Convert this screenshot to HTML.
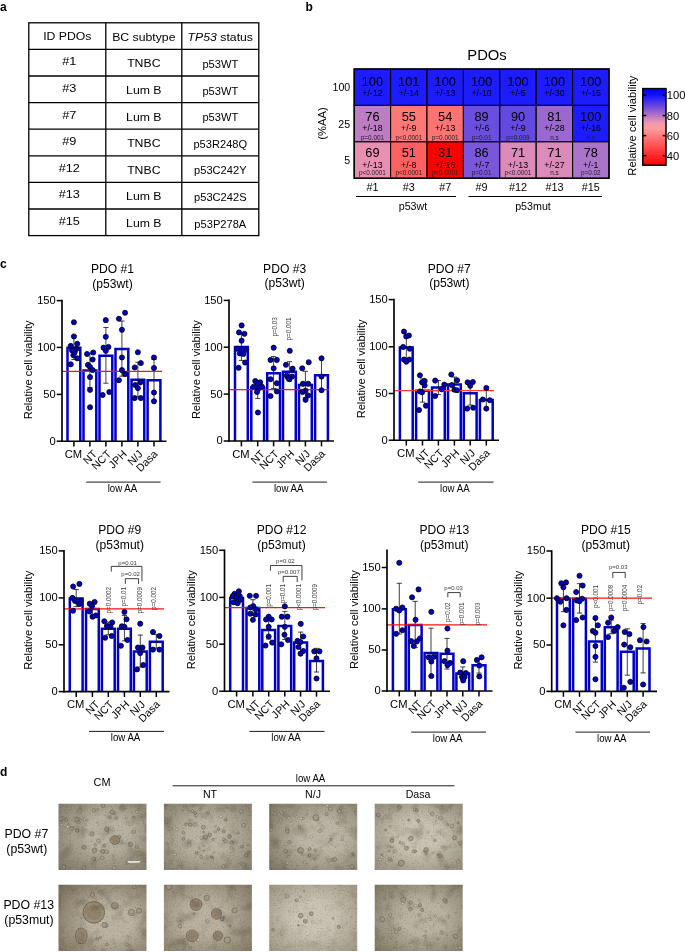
<!DOCTYPE html>
<html><head><meta charset="utf-8"><title>Figure</title>
<style>
html,body{margin:0;padding:0;background:#fff;}
body{width:685px;height:952px;overflow:hidden;font-family:"Liberation Sans",sans-serif;}
svg{display:block;will-change:transform;font-family:"Liberation Sans",sans-serif;}
</style></head><body>
<svg width="685" height="952" viewBox="0 0 685 952">
<rect x="0" y="0" width="685" height="952" fill="#ffffff"/>
<g id="panel-a">
<text transform="translate(0.10 11.00)" font-size="12" text-anchor="start" fill="#000" font-weight="bold">a</text>
<rect x="28.80" y="22.80" width="230.00" height="212.80" fill="none" stroke="#000" stroke-width="1.3"/>
<line x1="105.80" y1="22.80" x2="105.80" y2="235.60" stroke="#000" stroke-width="1.3" stroke-linecap="butt"/>
<line x1="181.80" y1="22.80" x2="181.80" y2="235.60" stroke="#000" stroke-width="1.3" stroke-linecap="butt"/>
<line x1="28.80" y1="49.40" x2="258.80" y2="49.40" stroke="#000" stroke-width="1.3" stroke-linecap="butt"/>
<line x1="28.80" y1="76.00" x2="258.80" y2="76.00" stroke="#000" stroke-width="1.3" stroke-linecap="butt"/>
<line x1="28.80" y1="102.60" x2="258.80" y2="102.60" stroke="#000" stroke-width="1.3" stroke-linecap="butt"/>
<line x1="28.80" y1="129.20" x2="258.80" y2="129.20" stroke="#000" stroke-width="1.3" stroke-linecap="butt"/>
<line x1="28.80" y1="155.80" x2="258.80" y2="155.80" stroke="#000" stroke-width="1.3" stroke-linecap="butt"/>
<line x1="28.80" y1="182.40" x2="258.80" y2="182.40" stroke="#000" stroke-width="1.3" stroke-linecap="butt"/>
<line x1="28.80" y1="209.00" x2="258.80" y2="209.00" stroke="#000" stroke-width="1.3" stroke-linecap="butt"/>
<text transform="translate(67.30 40.20) scale(1.19 1)" font-size="10.3" text-anchor="middle" fill="#000">ID PDOs</text>
<text transform="translate(143.80 40.70) scale(1.19 1)" font-size="10.3" text-anchor="middle" fill="#000">BC subtype</text>
<text transform="translate(220.30 40.70) scale(1.19 1)" font-size="10.3" text-anchor="middle" fill="#000"><tspan font-style="italic">TP53</tspan> status</text>
<text transform="translate(69.30 65.40) scale(1.19 1)" font-size="10.7" text-anchor="middle" fill="#000">#1</text>
<text transform="translate(143.80 67.30) scale(1.19 1)" font-size="10.3" text-anchor="middle" fill="#000">TNBC</text>
<text transform="translate(220.30 67.90) scale(1.08 1)" font-size="10.3" text-anchor="middle" fill="#000">p53WT</text>
<text transform="translate(69.30 92.00) scale(1.19 1)" font-size="10.7" text-anchor="middle" fill="#000">#3</text>
<text transform="translate(143.80 93.90) scale(1.19 1)" font-size="10.3" text-anchor="middle" fill="#000">Lum B</text>
<text transform="translate(220.30 94.50) scale(1.08 1)" font-size="10.3" text-anchor="middle" fill="#000">p53WT</text>
<text transform="translate(69.30 118.60) scale(1.19 1)" font-size="10.7" text-anchor="middle" fill="#000">#7</text>
<text transform="translate(143.80 120.50) scale(1.19 1)" font-size="10.3" text-anchor="middle" fill="#000">Lum B</text>
<text transform="translate(220.30 121.10) scale(1.08 1)" font-size="10.3" text-anchor="middle" fill="#000">p53WT</text>
<text transform="translate(69.30 145.20) scale(1.19 1)" font-size="10.7" text-anchor="middle" fill="#000">#9</text>
<text transform="translate(143.80 147.10) scale(1.19 1)" font-size="10.3" text-anchor="middle" fill="#000">TNBC</text>
<text transform="translate(220.30 147.70) scale(1.08 1)" font-size="10.3" text-anchor="middle" fill="#000">p53R248Q</text>
<text transform="translate(69.30 171.80) scale(1.19 1)" font-size="10.7" text-anchor="middle" fill="#000">#12</text>
<text transform="translate(143.80 173.70) scale(1.19 1)" font-size="10.3" text-anchor="middle" fill="#000">TNBC</text>
<text transform="translate(220.30 174.30) scale(1.08 1)" font-size="10.3" text-anchor="middle" fill="#000">p53C242Y</text>
<text transform="translate(69.30 198.40) scale(1.19 1)" font-size="10.7" text-anchor="middle" fill="#000">#13</text>
<text transform="translate(143.80 200.30) scale(1.19 1)" font-size="10.3" text-anchor="middle" fill="#000">Lum B</text>
<text transform="translate(220.30 200.90) scale(1.08 1)" font-size="10.3" text-anchor="middle" fill="#000">p53C242S</text>
<text transform="translate(69.30 225.00) scale(1.19 1)" font-size="10.7" text-anchor="middle" fill="#000">#15</text>
<text transform="translate(143.80 226.90) scale(1.19 1)" font-size="10.3" text-anchor="middle" fill="#000">Lum B</text>
<text transform="translate(220.30 227.50) scale(1.08 1)" font-size="10.3" text-anchor="middle" fill="#000">p53P278A</text>
</g>
<g id="panel-b">
<text transform="translate(305.50 10.80)" font-size="12" text-anchor="start" fill="#000" font-weight="bold">b</text>
<text transform="translate(487.00 59.50)" font-size="14.8" text-anchor="middle" fill="#000">PDOs</text>
<rect x="354.20" y="69.00" width="36.40" height="36.42" fill="#1c1cff" stroke="#000" stroke-width="1.1"/>
<rect x="390.60" y="69.00" width="36.40" height="36.42" fill="#1c1cff" stroke="#000" stroke-width="1.1"/>
<rect x="427.00" y="69.00" width="36.40" height="36.42" fill="#1c1cff" stroke="#000" stroke-width="1.1"/>
<rect x="463.40" y="69.00" width="36.40" height="36.42" fill="#1c1cff" stroke="#000" stroke-width="1.1"/>
<rect x="499.80" y="69.00" width="36.40" height="36.42" fill="#1c1cff" stroke="#000" stroke-width="1.1"/>
<rect x="536.20" y="69.00" width="36.40" height="36.42" fill="#1c1cff" stroke="#000" stroke-width="1.1"/>
<rect x="572.60" y="69.00" width="36.40" height="36.42" fill="#1c1cff" stroke="#000" stroke-width="1.1"/>
<rect x="354.20" y="105.42" width="36.40" height="36.42" fill="#bd7cc4" stroke="#000" stroke-width="1.1"/>
<rect x="390.60" y="105.42" width="36.40" height="36.42" fill="#ff7878" stroke="#000" stroke-width="1.1"/>
<rect x="427.00" y="105.42" width="36.40" height="36.42" fill="#ff7373" stroke="#000" stroke-width="1.1"/>
<rect x="463.40" y="105.42" width="36.40" height="36.42" fill="#6a4edf" stroke="#000" stroke-width="1.1"/>
<rect x="499.80" y="105.42" width="36.40" height="36.42" fill="#6448e2" stroke="#000" stroke-width="1.1"/>
<rect x="536.20" y="105.42" width="36.40" height="36.42" fill="#9a68cf" stroke="#000" stroke-width="1.1"/>
<rect x="572.60" y="105.42" width="36.40" height="36.42" fill="#1c1cff" stroke="#000" stroke-width="1.1"/>
<rect x="354.20" y="141.84" width="36.40" height="36.42" fill="#e88fb2" stroke="#000" stroke-width="1.1"/>
<rect x="390.60" y="141.84" width="36.40" height="36.42" fill="#ff6060" stroke="#000" stroke-width="1.1"/>
<rect x="427.00" y="141.84" width="36.40" height="36.42" fill="#ff0000" stroke="#000" stroke-width="1.1"/>
<rect x="463.40" y="141.84" width="36.40" height="36.42" fill="#7a57da" stroke="#000" stroke-width="1.1"/>
<rect x="499.80" y="141.84" width="36.40" height="36.42" fill="#dc8aba" stroke="#000" stroke-width="1.1"/>
<rect x="536.20" y="141.84" width="36.40" height="36.42" fill="#dc8aba" stroke="#000" stroke-width="1.1"/>
<rect x="572.60" y="141.84" width="36.40" height="36.42" fill="#ab74cb" stroke="#000" stroke-width="1.1"/>
<rect x="354.20" y="69.00" width="254.80" height="109.26" fill="none" stroke="#000" stroke-width="1.4"/>
<text transform="translate(372.40 86.00) scale(0.97 1)" font-size="13.2" text-anchor="middle" fill="#000">100</text>
<text transform="translate(372.40 96.10)" font-size="8.8" text-anchor="middle" fill="#000">+/-12</text>
<text transform="translate(408.80 86.00) scale(0.97 1)" font-size="13.2" text-anchor="middle" fill="#000">101</text>
<text transform="translate(408.80 96.10)" font-size="8.8" text-anchor="middle" fill="#000">+/-14</text>
<text transform="translate(445.20 86.00) scale(0.97 1)" font-size="13.2" text-anchor="middle" fill="#000">100</text>
<text transform="translate(445.20 96.10)" font-size="8.8" text-anchor="middle" fill="#000">+/-13</text>
<text transform="translate(481.60 86.00) scale(0.97 1)" font-size="13.2" text-anchor="middle" fill="#000">100</text>
<text transform="translate(481.60 96.10)" font-size="8.8" text-anchor="middle" fill="#000">+/-10</text>
<text transform="translate(518.00 86.00) scale(0.97 1)" font-size="13.2" text-anchor="middle" fill="#000">100</text>
<text transform="translate(518.00 96.10)" font-size="8.8" text-anchor="middle" fill="#000">+/-5</text>
<text transform="translate(554.40 86.00) scale(0.97 1)" font-size="13.2" text-anchor="middle" fill="#000">100</text>
<text transform="translate(554.40 96.10)" font-size="8.8" text-anchor="middle" fill="#000">+/-30</text>
<text transform="translate(590.80 86.00) scale(0.97 1)" font-size="13.2" text-anchor="middle" fill="#000">100</text>
<text transform="translate(590.80 96.10)" font-size="8.8" text-anchor="middle" fill="#000">+/-15</text>
<text transform="translate(372.40 121.42) scale(0.97 1)" font-size="13.2" text-anchor="middle" fill="#000">76</text>
<text transform="translate(372.40 131.42)" font-size="8.8" text-anchor="middle" fill="#000">+/-18</text>
<text transform="translate(372.40 139.72)" font-size="6.4" text-anchor="middle" fill="#222">p=0.001</text>
<text transform="translate(408.80 121.42) scale(0.97 1)" font-size="13.2" text-anchor="middle" fill="#000">55</text>
<text transform="translate(408.80 131.42)" font-size="8.8" text-anchor="middle" fill="#000">+/-9</text>
<text transform="translate(408.80 139.72)" font-size="6.4" text-anchor="middle" fill="#222">p&lt;0.0001</text>
<text transform="translate(445.20 121.42) scale(0.97 1)" font-size="13.2" text-anchor="middle" fill="#000">54</text>
<text transform="translate(445.20 131.42)" font-size="8.8" text-anchor="middle" fill="#000">+/-13</text>
<text transform="translate(445.20 139.72)" font-size="6.4" text-anchor="middle" fill="#222">p=0.0001</text>
<text transform="translate(481.60 121.42) scale(0.97 1)" font-size="13.2" text-anchor="middle" fill="#000">89</text>
<text transform="translate(481.60 131.42)" font-size="8.8" text-anchor="middle" fill="#000">+/-6</text>
<text transform="translate(481.60 139.72)" font-size="6.4" text-anchor="middle" fill="#222">p=0.01</text>
<text transform="translate(518.00 121.42) scale(0.97 1)" font-size="13.2" text-anchor="middle" fill="#000">90</text>
<text transform="translate(518.00 131.42)" font-size="8.8" text-anchor="middle" fill="#000">+/-9</text>
<text transform="translate(518.00 139.72)" font-size="6.4" text-anchor="middle" fill="#222">p=0.009</text>
<text transform="translate(554.40 121.42) scale(0.97 1)" font-size="13.2" text-anchor="middle" fill="#000">81</text>
<text transform="translate(554.40 131.42)" font-size="8.8" text-anchor="middle" fill="#000">+/-28</text>
<text transform="translate(554.40 139.72)" font-size="6.4" text-anchor="middle" fill="#222">n.s</text>
<text transform="translate(590.80 121.42) scale(0.97 1)" font-size="13.2" text-anchor="middle" fill="#000">100</text>
<text transform="translate(590.80 131.42)" font-size="8.8" text-anchor="middle" fill="#000">+/-16</text>
<text transform="translate(590.80 139.72)" font-size="6.4" text-anchor="middle" fill="#222">n.s</text>
<text transform="translate(372.40 156.84) scale(0.97 1)" font-size="13.2" text-anchor="middle" fill="#000">69</text>
<text transform="translate(372.40 168.04)" font-size="8.8" text-anchor="middle" fill="#000">+/-13</text>
<text transform="translate(372.40 175.44)" font-size="6.4" text-anchor="middle" fill="#222">p&lt;0.0001</text>
<text transform="translate(408.80 156.84) scale(0.97 1)" font-size="13.2" text-anchor="middle" fill="#000">51</text>
<text transform="translate(408.80 168.04)" font-size="8.8" text-anchor="middle" fill="#000">+/-8</text>
<text transform="translate(408.80 175.44)" font-size="6.4" text-anchor="middle" fill="#222">p&lt;0.0001</text>
<text transform="translate(445.20 156.84) scale(0.97 1)" font-size="13.2" text-anchor="middle" fill="#000">31</text>
<text transform="translate(445.20 168.04)" font-size="8.8" text-anchor="middle" fill="#000">+/-16</text>
<text transform="translate(445.20 175.44)" font-size="6.4" text-anchor="middle" fill="#222">p&lt;0.0001</text>
<text transform="translate(481.60 156.84) scale(0.97 1)" font-size="13.2" text-anchor="middle" fill="#000">86</text>
<text transform="translate(481.60 168.04)" font-size="8.8" text-anchor="middle" fill="#000">+/-7</text>
<text transform="translate(481.60 175.44)" font-size="6.4" text-anchor="middle" fill="#222">p=0.01</text>
<text transform="translate(518.00 156.84) scale(0.97 1)" font-size="13.2" text-anchor="middle" fill="#000">71</text>
<text transform="translate(518.00 168.04)" font-size="8.8" text-anchor="middle" fill="#000">+/-13</text>
<text transform="translate(518.00 175.44)" font-size="6.4" text-anchor="middle" fill="#222">p&lt;0.0001</text>
<text transform="translate(554.40 156.84) scale(0.97 1)" font-size="13.2" text-anchor="middle" fill="#000">71</text>
<text transform="translate(554.40 168.04)" font-size="8.8" text-anchor="middle" fill="#000">+/-27</text>
<text transform="translate(554.40 175.44)" font-size="6.4" text-anchor="middle" fill="#222">n.s</text>
<text transform="translate(590.80 156.84) scale(0.97 1)" font-size="13.2" text-anchor="middle" fill="#000">78</text>
<text transform="translate(590.80 168.04)" font-size="8.8" text-anchor="middle" fill="#000">+/-1</text>
<text transform="translate(590.80 175.44)" font-size="6.4" text-anchor="middle" fill="#222">p=0.02</text>
<text transform="translate(350.20 91.21) scale(0.95 1)" font-size="11.2" text-anchor="end" fill="#000">100</text>
<text transform="translate(350.20 127.63) scale(0.95 1)" font-size="11.2" text-anchor="end" fill="#000">25</text>
<text transform="translate(350.20 164.05) scale(0.95 1)" font-size="11.2" text-anchor="end" fill="#000">5</text>
<text transform="translate(325.70 123.50) rotate(-90)" font-size="11.2" text-anchor="middle" fill="#000">(%AA)</text>
<text transform="translate(372.40 190.50)" font-size="10.8" text-anchor="middle" fill="#000">#1</text>
<text transform="translate(408.80 190.50)" font-size="10.8" text-anchor="middle" fill="#000">#3</text>
<text transform="translate(445.20 190.50)" font-size="10.8" text-anchor="middle" fill="#000">#7</text>
<text transform="translate(481.60 190.50)" font-size="10.8" text-anchor="middle" fill="#000">#9</text>
<text transform="translate(518.00 190.50)" font-size="10.8" text-anchor="middle" fill="#000">#12</text>
<text transform="translate(554.40 190.50)" font-size="10.8" text-anchor="middle" fill="#000">#13</text>
<text transform="translate(590.80 190.50)" font-size="10.8" text-anchor="middle" fill="#000">#15</text>
<line x1="356.00" y1="196.50" x2="456.00" y2="196.50" stroke="#000" stroke-width="1" stroke-linecap="butt"/>
<line x1="468.50" y1="196.50" x2="602.00" y2="196.50" stroke="#000" stroke-width="1" stroke-linecap="butt"/>
<text transform="translate(413.00 210.40)" font-size="10.7" text-anchor="middle" fill="#000">p53wt</text>
<text transform="translate(533.00 210.40)" font-size="10.7" text-anchor="middle" fill="#000">p53mut</text>
<defs><linearGradient id="cb" x1="0" y1="0" x2="0" y2="1"><stop offset="0" stop-color="#0000ff"/><stop offset="0.08" stop-color="#1010ff"/><stop offset="0.45" stop-color="#f09ab0"/><stop offset="0.52" stop-color="#ff9c9c"/><stop offset="1" stop-color="#ff0000"/></linearGradient></defs>
<rect x="642.80" y="88.60" width="23.20" height="76.60" fill="url(#cb)" stroke="#000" stroke-width="1.5"/>
<line x1="642.80" y1="95.00" x2="646.30" y2="95.00" stroke="#000" stroke-width="1.5" stroke-linecap="butt"/>
<line x1="662.70" y1="95.00" x2="666.00" y2="95.00" stroke="#000" stroke-width="1.5" stroke-linecap="butt"/>
<text transform="translate(666.80 99.00)" font-size="11.2" text-anchor="start" fill="#000">100</text>
<line x1="642.80" y1="115.50" x2="646.30" y2="115.50" stroke="#000" stroke-width="1.5" stroke-linecap="butt"/>
<line x1="662.70" y1="115.50" x2="666.00" y2="115.50" stroke="#000" stroke-width="1.5" stroke-linecap="butt"/>
<text transform="translate(666.80 119.50)" font-size="11.2" text-anchor="start" fill="#000">80</text>
<line x1="642.80" y1="135.60" x2="646.30" y2="135.60" stroke="#000" stroke-width="1.5" stroke-linecap="butt"/>
<line x1="662.70" y1="135.60" x2="666.00" y2="135.60" stroke="#000" stroke-width="1.5" stroke-linecap="butt"/>
<text transform="translate(666.80 139.60)" font-size="11.2" text-anchor="start" fill="#000">60</text>
<line x1="642.80" y1="155.70" x2="646.30" y2="155.70" stroke="#000" stroke-width="1.5" stroke-linecap="butt"/>
<line x1="662.70" y1="155.70" x2="666.00" y2="155.70" stroke="#000" stroke-width="1.5" stroke-linecap="butt"/>
<text transform="translate(666.80 159.70)" font-size="11.2" text-anchor="start" fill="#000">40</text>
<text transform="translate(635.80 125.60) rotate(-90)" font-size="11.2" text-anchor="middle" fill="#000">Relative cell viability</text>
</g>
<g id="panel-c">
<text transform="translate(0.10 267.90)" font-size="12" text-anchor="start" fill="#000" font-weight="bold">c</text>
<g id="c1">
<path d="M67.50,441.20 V347.80 H80.30 V441.20" fill="#fff" stroke="#0000c8" stroke-width="2.5"/>
<path d="M83.50,441.20 V370.57 H96.30 V441.20" fill="#fff" stroke="#0000c8" stroke-width="2.5"/>
<path d="M99.50,441.20 V355.68 H112.30 V441.20" fill="#fff" stroke="#0000c8" stroke-width="2.5"/>
<path d="M115.50,441.20 V349.03 H128.30 V441.20" fill="#fff" stroke="#0000c8" stroke-width="2.5"/>
<path d="M131.50,441.20 V379.68 H144.30 V441.20" fill="#fff" stroke="#0000c8" stroke-width="2.5"/>
<path d="M147.60,441.20 V380.21 H160.40 V441.20" fill="#fff" stroke="#0000c8" stroke-width="2.5"/>
<line x1="73.90" y1="335.91" x2="73.90" y2="359.56" stroke="#111" stroke-width="0.8" stroke-linecap="butt"/>
<line x1="71.30" y1="335.91" x2="76.50" y2="335.91" stroke="#111" stroke-width="0.8" stroke-linecap="butt"/>
<line x1="71.30" y1="359.56" x2="76.50" y2="359.56" stroke="#111" stroke-width="0.8" stroke-linecap="butt"/>
<line x1="89.90" y1="353.43" x2="89.90" y2="387.59" stroke="#111" stroke-width="0.8" stroke-linecap="butt"/>
<line x1="87.30" y1="353.43" x2="92.50" y2="353.43" stroke="#111" stroke-width="0.8" stroke-linecap="butt"/>
<line x1="87.30" y1="387.59" x2="92.50" y2="387.59" stroke="#111" stroke-width="0.8" stroke-linecap="butt"/>
<line x1="105.90" y1="327.50" x2="105.90" y2="383.21" stroke="#111" stroke-width="0.8" stroke-linecap="butt"/>
<line x1="103.30" y1="327.50" x2="108.50" y2="327.50" stroke="#111" stroke-width="0.8" stroke-linecap="butt"/>
<line x1="103.30" y1="383.21" x2="108.50" y2="383.21" stroke="#111" stroke-width="0.8" stroke-linecap="butt"/>
<line x1="121.90" y1="321.02" x2="121.90" y2="376.20" stroke="#111" stroke-width="0.8" stroke-linecap="butt"/>
<line x1="119.30" y1="321.02" x2="124.50" y2="321.02" stroke="#111" stroke-width="0.8" stroke-linecap="butt"/>
<line x1="119.30" y1="376.20" x2="124.50" y2="376.20" stroke="#111" stroke-width="0.8" stroke-linecap="butt"/>
<line x1="137.90" y1="362.19" x2="137.90" y2="396.35" stroke="#111" stroke-width="0.8" stroke-linecap="butt"/>
<line x1="135.30" y1="362.19" x2="140.50" y2="362.19" stroke="#111" stroke-width="0.8" stroke-linecap="butt"/>
<line x1="135.30" y1="396.35" x2="140.50" y2="396.35" stroke="#111" stroke-width="0.8" stroke-linecap="butt"/>
<line x1="154.00" y1="359.56" x2="154.00" y2="400.20" stroke="#111" stroke-width="0.8" stroke-linecap="butt"/>
<line x1="151.40" y1="359.56" x2="156.60" y2="359.56" stroke="#111" stroke-width="0.8" stroke-linecap="butt"/>
<line x1="151.40" y1="400.20" x2="156.60" y2="400.20" stroke="#111" stroke-width="0.8" stroke-linecap="butt"/>
<line x1="62.00" y1="371.30" x2="162.00" y2="371.30" stroke="#ff1212" stroke-width="1.25" stroke-linecap="butt"/>
<line x1="62.00" y1="299.80" x2="62.00" y2="442.00" stroke="#000" stroke-width="1.65" stroke-linecap="butt"/>
<line x1="61.20" y1="441.20" x2="166.50" y2="441.20" stroke="#000" stroke-width="1.65" stroke-linecap="butt"/>
<line x1="56.70" y1="300.60" x2="62.00" y2="300.60" stroke="#000" stroke-width="1.5" stroke-linecap="butt"/>
<text transform="translate(55.80 304.00)" font-size="11.2" text-anchor="end" fill="#000">150</text>
<line x1="56.70" y1="347.40" x2="62.00" y2="347.40" stroke="#000" stroke-width="1.5" stroke-linecap="butt"/>
<text transform="translate(55.80 350.80)" font-size="11.2" text-anchor="end" fill="#000">100</text>
<line x1="56.70" y1="394.40" x2="62.00" y2="394.40" stroke="#000" stroke-width="1.5" stroke-linecap="butt"/>
<text transform="translate(55.80 397.80)" font-size="11.2" text-anchor="end" fill="#000">50</text>
<line x1="56.70" y1="441.20" x2="62.00" y2="441.20" stroke="#000" stroke-width="1.5" stroke-linecap="butt"/>
<text transform="translate(55.80 444.60)" font-size="11.2" text-anchor="end" fill="#000">0</text>
<line x1="73.90" y1="441.20" x2="73.90" y2="446.60" stroke="#000" stroke-width="1.5" stroke-linecap="butt"/>
<line x1="89.90" y1="441.20" x2="89.90" y2="446.60" stroke="#000" stroke-width="1.5" stroke-linecap="butt"/>
<line x1="105.90" y1="441.20" x2="105.90" y2="446.60" stroke="#000" stroke-width="1.5" stroke-linecap="butt"/>
<line x1="121.90" y1="441.20" x2="121.90" y2="446.60" stroke="#000" stroke-width="1.5" stroke-linecap="butt"/>
<line x1="137.90" y1="441.20" x2="137.90" y2="446.60" stroke="#000" stroke-width="1.5" stroke-linecap="butt"/>
<line x1="154.00" y1="441.20" x2="154.00" y2="446.60" stroke="#000" stroke-width="1.5" stroke-linecap="butt"/>
<circle cx="73.92" cy="322.25" r="2.55" fill="#0000c8" stroke="#000" stroke-width="0.8"/>
<circle cx="73.92" cy="336.44" r="2.55" fill="#0000c8" stroke="#000" stroke-width="0.8"/>
<circle cx="77.25" cy="343.80" r="2.55" fill="#0000c8" stroke="#000" stroke-width="0.8"/>
<circle cx="70.77" cy="345.90" r="2.55" fill="#0000c8" stroke="#000" stroke-width="0.8"/>
<circle cx="76.37" cy="349.05" r="2.55" fill="#0000c8" stroke="#000" stroke-width="0.8"/>
<circle cx="71.99" cy="350.28" r="2.55" fill="#0000c8" stroke="#000" stroke-width="0.8"/>
<circle cx="73.39" cy="355.18" r="2.55" fill="#0000c8" stroke="#000" stroke-width="0.8"/>
<circle cx="77.25" cy="358.34" r="2.55" fill="#0000c8" stroke="#000" stroke-width="0.8"/>
<circle cx="74.62" cy="352.55" r="2.55" fill="#0000c8" stroke="#000" stroke-width="0.8"/>
<circle cx="70.77" cy="364.29" r="2.55" fill="#0000c8" stroke="#000" stroke-width="0.8"/>
<circle cx="87.06" cy="353.96" r="2.55" fill="#0000c8" stroke="#000" stroke-width="0.8"/>
<circle cx="93.19" cy="352.55" r="2.55" fill="#0000c8" stroke="#000" stroke-width="0.8"/>
<circle cx="92.66" cy="359.56" r="2.55" fill="#0000c8" stroke="#000" stroke-width="0.8"/>
<circle cx="87.93" cy="364.82" r="2.55" fill="#0000c8" stroke="#000" stroke-width="0.8"/>
<circle cx="90.04" cy="366.92" r="2.55" fill="#0000c8" stroke="#000" stroke-width="0.8"/>
<circle cx="92.66" cy="370.07" r="2.55" fill="#0000c8" stroke="#000" stroke-width="0.8"/>
<circle cx="90.04" cy="377.08" r="2.55" fill="#0000c8" stroke="#000" stroke-width="0.8"/>
<circle cx="90.04" cy="389.87" r="2.55" fill="#0000c8" stroke="#000" stroke-width="0.8"/>
<circle cx="90.04" cy="407.21" r="2.55" fill="#0000c8" stroke="#000" stroke-width="0.8"/>
<circle cx="105.80" cy="320.15" r="2.55" fill="#0000c8" stroke="#000" stroke-width="0.8"/>
<circle cx="105.80" cy="336.79" r="2.55" fill="#0000c8" stroke="#000" stroke-width="0.8"/>
<circle cx="103.53" cy="347.65" r="2.55" fill="#0000c8" stroke="#000" stroke-width="0.8"/>
<circle cx="108.43" cy="346.95" r="2.55" fill="#0000c8" stroke="#000" stroke-width="0.8"/>
<circle cx="105.80" cy="350.80" r="2.55" fill="#0000c8" stroke="#000" stroke-width="0.8"/>
<circle cx="102.65" cy="394.95" r="2.55" fill="#0000c8" stroke="#000" stroke-width="0.8"/>
<circle cx="109.31" cy="391.97" r="2.55" fill="#0000c8" stroke="#000" stroke-width="0.8"/>
<circle cx="125.07" cy="312.79" r="2.55" fill="#0000c8" stroke="#000" stroke-width="0.8"/>
<circle cx="118.94" cy="318.74" r="2.55" fill="#0000c8" stroke="#000" stroke-width="0.8"/>
<circle cx="121.92" cy="329.78" r="2.55" fill="#0000c8" stroke="#000" stroke-width="0.8"/>
<circle cx="121.92" cy="357.46" r="2.55" fill="#0000c8" stroke="#000" stroke-width="0.8"/>
<circle cx="121.92" cy="370.07" r="2.55" fill="#0000c8" stroke="#000" stroke-width="0.8"/>
<circle cx="125.07" cy="374.10" r="2.55" fill="#0000c8" stroke="#000" stroke-width="0.8"/>
<circle cx="118.94" cy="380.23" r="2.55" fill="#0000c8" stroke="#000" stroke-width="0.8"/>
<circle cx="137.86" cy="352.20" r="2.55" fill="#0000c8" stroke="#000" stroke-width="0.8"/>
<circle cx="140.84" cy="363.07" r="2.55" fill="#0000c8" stroke="#000" stroke-width="0.8"/>
<circle cx="134.71" cy="367.45" r="2.55" fill="#0000c8" stroke="#000" stroke-width="0.8"/>
<circle cx="140.49" cy="382.34" r="2.55" fill="#0000c8" stroke="#000" stroke-width="0.8"/>
<circle cx="135.23" cy="384.96" r="2.55" fill="#0000c8" stroke="#000" stroke-width="0.8"/>
<circle cx="137.86" cy="388.12" r="2.55" fill="#0000c8" stroke="#000" stroke-width="0.8"/>
<circle cx="134.71" cy="398.10" r="2.55" fill="#0000c8" stroke="#000" stroke-width="0.8"/>
<circle cx="140.84" cy="398.10" r="2.55" fill="#0000c8" stroke="#000" stroke-width="0.8"/>
<circle cx="153.98" cy="357.46" r="2.55" fill="#0000c8" stroke="#000" stroke-width="0.8"/>
<circle cx="153.98" cy="367.97" r="2.55" fill="#0000c8" stroke="#000" stroke-width="0.8"/>
<circle cx="153.98" cy="392.50" r="2.55" fill="#0000c8" stroke="#000" stroke-width="0.8"/>
<circle cx="153.98" cy="401.26" r="2.55" fill="#0000c8" stroke="#000" stroke-width="0.8"/>
<text transform="translate(73.40 457.80)" font-size="11.2" text-anchor="middle" fill="#000">CM</text>
<text transform="translate(97.60 454.70) rotate(-45)" font-size="10.8" text-anchor="end" fill="#000">NT</text>
<text transform="translate(111.80 454.70) rotate(-45)" font-size="10.8" text-anchor="end" fill="#000">NCT</text>
<text transform="translate(127.40 454.70) rotate(-45)" font-size="10.8" text-anchor="end" fill="#000">JPH</text>
<text transform="translate(143.40 454.70) rotate(-45)" font-size="10.8" text-anchor="end" fill="#000">N/J</text>
<text transform="translate(158.30 454.70) rotate(-45)" font-size="10.8" text-anchor="end" fill="#000">Dasa</text>
<line x1="86.20" y1="482.10" x2="160.60" y2="482.10" stroke="#000" stroke-width="0.9" stroke-linecap="butt"/>
<text transform="translate(122.40 492.10) scale(0.93 1)" font-size="10.4" text-anchor="middle" fill="#000">low AA</text>
<text transform="translate(31.50 369.90) rotate(-90)" font-size="11.05" text-anchor="middle" fill="#000">Relative cell viability</text>
<text transform="translate(112.50 272.90)" font-size="12.1" text-anchor="middle" fill="#000">PDO #1</text>
<text transform="translate(112.50 287.50)" font-size="12.1" text-anchor="middle" fill="#000">(p53wt)</text>
</g>
<g id="c2">
<path d="M235.00,441.00 V346.92 H247.80 V441.00" fill="#fff" stroke="#0000c8" stroke-width="2.5"/>
<path d="M251.30,441.00 V387.57 H264.10 V441.00" fill="#fff" stroke="#0000c8" stroke-width="2.5"/>
<path d="M267.20,441.00 V373.20 H280.00 V441.00" fill="#fff" stroke="#0000c8" stroke-width="2.5"/>
<path d="M283.00,441.00 V371.80 H295.80 V441.00" fill="#fff" stroke="#0000c8" stroke-width="2.5"/>
<path d="M299.00,441.00 V385.11 H311.80 V441.00" fill="#fff" stroke="#0000c8" stroke-width="2.5"/>
<path d="M315.10,441.00 V375.30 H327.90 V441.00" fill="#fff" stroke="#0000c8" stroke-width="2.5"/>
<line x1="241.40" y1="333.28" x2="241.40" y2="360.44" stroke="#111" stroke-width="0.8" stroke-linecap="butt"/>
<line x1="238.80" y1="333.28" x2="244.00" y2="333.28" stroke="#111" stroke-width="0.8" stroke-linecap="butt"/>
<line x1="238.80" y1="360.44" x2="244.00" y2="360.44" stroke="#111" stroke-width="0.8" stroke-linecap="butt"/>
<line x1="257.70" y1="381.46" x2="257.70" y2="398.45" stroke="#111" stroke-width="0.8" stroke-linecap="butt"/>
<line x1="255.10" y1="381.46" x2="260.30" y2="381.46" stroke="#111" stroke-width="0.8" stroke-linecap="butt"/>
<line x1="255.10" y1="398.45" x2="260.30" y2="398.45" stroke="#111" stroke-width="0.8" stroke-linecap="butt"/>
<line x1="273.60" y1="356.58" x2="273.60" y2="388.47" stroke="#111" stroke-width="0.8" stroke-linecap="butt"/>
<line x1="271.00" y1="356.58" x2="276.20" y2="356.58" stroke="#111" stroke-width="0.8" stroke-linecap="butt"/>
<line x1="271.00" y1="388.47" x2="276.20" y2="388.47" stroke="#111" stroke-width="0.8" stroke-linecap="butt"/>
<line x1="289.40" y1="361.66" x2="289.40" y2="380.93" stroke="#111" stroke-width="0.8" stroke-linecap="butt"/>
<line x1="286.80" y1="361.66" x2="292.00" y2="361.66" stroke="#111" stroke-width="0.8" stroke-linecap="butt"/>
<line x1="286.80" y1="380.93" x2="292.00" y2="380.93" stroke="#111" stroke-width="0.8" stroke-linecap="butt"/>
<line x1="305.40" y1="371.30" x2="305.40" y2="397.58" stroke="#111" stroke-width="0.8" stroke-linecap="butt"/>
<line x1="302.80" y1="371.30" x2="308.00" y2="371.30" stroke="#111" stroke-width="0.8" stroke-linecap="butt"/>
<line x1="302.80" y1="397.58" x2="308.00" y2="397.58" stroke="#111" stroke-width="0.8" stroke-linecap="butt"/>
<line x1="321.50" y1="358.69" x2="321.50" y2="391.09" stroke="#111" stroke-width="0.8" stroke-linecap="butt"/>
<line x1="318.90" y1="358.69" x2="324.10" y2="358.69" stroke="#111" stroke-width="0.8" stroke-linecap="butt"/>
<line x1="318.90" y1="391.09" x2="324.10" y2="391.09" stroke="#111" stroke-width="0.8" stroke-linecap="butt"/>
<line x1="229.00" y1="389.69" x2="329.00" y2="389.69" stroke="#ff1212" stroke-width="1.25" stroke-linecap="butt"/>
<line x1="229.00" y1="299.60" x2="229.00" y2="441.80" stroke="#000" stroke-width="1.65" stroke-linecap="butt"/>
<line x1="228.20" y1="441.00" x2="334.00" y2="441.00" stroke="#000" stroke-width="1.65" stroke-linecap="butt"/>
<line x1="223.70" y1="300.40" x2="229.00" y2="300.40" stroke="#000" stroke-width="1.5" stroke-linecap="butt"/>
<text transform="translate(222.80 303.80)" font-size="11.2" text-anchor="end" fill="#000">150</text>
<line x1="223.70" y1="347.20" x2="229.00" y2="347.20" stroke="#000" stroke-width="1.5" stroke-linecap="butt"/>
<text transform="translate(222.80 350.60)" font-size="11.2" text-anchor="end" fill="#000">100</text>
<line x1="223.70" y1="394.10" x2="229.00" y2="394.10" stroke="#000" stroke-width="1.5" stroke-linecap="butt"/>
<text transform="translate(222.80 397.50)" font-size="11.2" text-anchor="end" fill="#000">50</text>
<line x1="223.70" y1="441.00" x2="229.00" y2="441.00" stroke="#000" stroke-width="1.5" stroke-linecap="butt"/>
<text transform="translate(222.80 444.40)" font-size="11.2" text-anchor="end" fill="#000">0</text>
<line x1="241.40" y1="441.00" x2="241.40" y2="446.40" stroke="#000" stroke-width="1.5" stroke-linecap="butt"/>
<line x1="257.70" y1="441.00" x2="257.70" y2="446.40" stroke="#000" stroke-width="1.5" stroke-linecap="butt"/>
<line x1="273.60" y1="441.00" x2="273.60" y2="446.40" stroke="#000" stroke-width="1.5" stroke-linecap="butt"/>
<line x1="289.40" y1="441.00" x2="289.40" y2="446.40" stroke="#000" stroke-width="1.5" stroke-linecap="butt"/>
<line x1="305.40" y1="441.00" x2="305.40" y2="446.40" stroke="#000" stroke-width="1.5" stroke-linecap="butt"/>
<line x1="321.50" y1="441.00" x2="321.50" y2="446.40" stroke="#000" stroke-width="1.5" stroke-linecap="butt"/>
<circle cx="241.62" cy="325.40" r="2.55" fill="#0000c8" stroke="#000" stroke-width="0.8"/>
<circle cx="238.99" cy="332.41" r="2.55" fill="#0000c8" stroke="#000" stroke-width="0.8"/>
<circle cx="244.42" cy="333.81" r="2.55" fill="#0000c8" stroke="#000" stroke-width="0.8"/>
<circle cx="241.62" cy="340.64" r="2.55" fill="#0000c8" stroke="#000" stroke-width="0.8"/>
<circle cx="237.42" cy="348.70" r="2.55" fill="#0000c8" stroke="#000" stroke-width="0.8"/>
<circle cx="246.18" cy="349.58" r="2.55" fill="#0000c8" stroke="#000" stroke-width="0.8"/>
<circle cx="241.62" cy="349.58" r="2.55" fill="#0000c8" stroke="#000" stroke-width="0.8"/>
<circle cx="239.87" cy="353.43" r="2.55" fill="#0000c8" stroke="#000" stroke-width="0.8"/>
<circle cx="243.37" cy="353.96" r="2.55" fill="#0000c8" stroke="#000" stroke-width="0.8"/>
<circle cx="245.12" cy="362.54" r="2.55" fill="#0000c8" stroke="#000" stroke-width="0.8"/>
<circle cx="238.64" cy="367.80" r="2.55" fill="#0000c8" stroke="#000" stroke-width="0.8"/>
<circle cx="255.28" cy="380.93" r="2.55" fill="#0000c8" stroke="#000" stroke-width="0.8"/>
<circle cx="260.19" cy="382.34" r="2.55" fill="#0000c8" stroke="#000" stroke-width="0.8"/>
<circle cx="257.56" cy="383.21" r="2.55" fill="#0000c8" stroke="#000" stroke-width="0.8"/>
<circle cx="253.53" cy="386.72" r="2.55" fill="#0000c8" stroke="#000" stroke-width="0.8"/>
<circle cx="261.94" cy="386.72" r="2.55" fill="#0000c8" stroke="#000" stroke-width="0.8"/>
<circle cx="257.91" cy="389.34" r="2.55" fill="#0000c8" stroke="#000" stroke-width="0.8"/>
<circle cx="257.04" cy="391.97" r="2.55" fill="#0000c8" stroke="#000" stroke-width="0.8"/>
<circle cx="257.91" cy="412.47" r="2.55" fill="#0000c8" stroke="#000" stroke-width="0.8"/>
<circle cx="273.68" cy="347.65" r="2.55" fill="#0000c8" stroke="#000" stroke-width="0.8"/>
<circle cx="270.53" cy="359.91" r="2.55" fill="#0000c8" stroke="#000" stroke-width="0.8"/>
<circle cx="276.83" cy="359.91" r="2.55" fill="#0000c8" stroke="#000" stroke-width="0.8"/>
<circle cx="273.68" cy="368.32" r="2.55" fill="#0000c8" stroke="#000" stroke-width="0.8"/>
<circle cx="270.53" cy="379.18" r="2.55" fill="#0000c8" stroke="#000" stroke-width="0.8"/>
<circle cx="276.83" cy="383.21" r="2.55" fill="#0000c8" stroke="#000" stroke-width="0.8"/>
<circle cx="276.83" cy="391.45" r="2.55" fill="#0000c8" stroke="#000" stroke-width="0.8"/>
<circle cx="270.53" cy="396.00" r="2.55" fill="#0000c8" stroke="#000" stroke-width="0.8"/>
<circle cx="289.80" cy="350.80" r="2.55" fill="#0000c8" stroke="#000" stroke-width="0.8"/>
<circle cx="285.94" cy="364.82" r="2.55" fill="#0000c8" stroke="#000" stroke-width="0.8"/>
<circle cx="292.60" cy="368.67" r="2.55" fill="#0000c8" stroke="#000" stroke-width="0.8"/>
<circle cx="286.82" cy="375.68" r="2.55" fill="#0000c8" stroke="#000" stroke-width="0.8"/>
<circle cx="292.07" cy="376.55" r="2.55" fill="#0000c8" stroke="#000" stroke-width="0.8"/>
<circle cx="289.45" cy="379.18" r="2.55" fill="#0000c8" stroke="#000" stroke-width="0.8"/>
<circle cx="288.22" cy="377.96" r="2.55" fill="#0000c8" stroke="#000" stroke-width="0.8"/>
<circle cx="308.72" cy="362.19" r="2.55" fill="#0000c8" stroke="#000" stroke-width="0.8"/>
<circle cx="302.23" cy="368.32" r="2.55" fill="#0000c8" stroke="#000" stroke-width="0.8"/>
<circle cx="302.93" cy="383.74" r="2.55" fill="#0000c8" stroke="#000" stroke-width="0.8"/>
<circle cx="308.19" cy="383.74" r="2.55" fill="#0000c8" stroke="#000" stroke-width="0.8"/>
<circle cx="305.56" cy="390.57" r="2.55" fill="#0000c8" stroke="#000" stroke-width="0.8"/>
<circle cx="302.58" cy="391.97" r="2.55" fill="#0000c8" stroke="#000" stroke-width="0.8"/>
<circle cx="308.19" cy="395.47" r="2.55" fill="#0000c8" stroke="#000" stroke-width="0.8"/>
<circle cx="305.56" cy="399.85" r="2.55" fill="#0000c8" stroke="#000" stroke-width="0.8"/>
<circle cx="321.50" cy="358.34" r="2.55" fill="#0000c8" stroke="#000" stroke-width="0.8"/>
<circle cx="321.50" cy="376.55" r="2.55" fill="#0000c8" stroke="#000" stroke-width="0.8"/>
<circle cx="321.50" cy="390.22" r="2.55" fill="#0000c8" stroke="#000" stroke-width="0.8"/>
<text transform="translate(240.90 457.60)" font-size="11.2" text-anchor="middle" fill="#000">CM</text>
<text transform="translate(265.40 454.50) rotate(-45)" font-size="10.8" text-anchor="end" fill="#000">NT</text>
<text transform="translate(279.50 454.50) rotate(-45)" font-size="10.8" text-anchor="end" fill="#000">NCT</text>
<text transform="translate(294.90 454.50) rotate(-45)" font-size="10.8" text-anchor="end" fill="#000">JPH</text>
<text transform="translate(310.90 454.50) rotate(-45)" font-size="10.8" text-anchor="end" fill="#000">N/J</text>
<text transform="translate(325.80 454.50) rotate(-45)" font-size="10.8" text-anchor="end" fill="#000">Dasa</text>
<line x1="252.40" y1="482.10" x2="327.00" y2="482.10" stroke="#000" stroke-width="0.9" stroke-linecap="butt"/>
<text transform="translate(288.70 492.10) scale(0.93 1)" font-size="10.4" text-anchor="middle" fill="#000">low AA</text>
<text transform="translate(199.60 369.70) rotate(-90)" font-size="11.05" text-anchor="middle" fill="#000">Relative cell viability</text>
<text transform="translate(284.60 272.80)" font-size="12.1" text-anchor="middle" fill="#000">PDO #3</text>
<text transform="translate(284.60 287.40)" font-size="12.1" text-anchor="middle" fill="#000">(p53wt)</text>
<text transform="translate(276.66 317.17) rotate(-90)" font-size="6.3" text-anchor="end" fill="#3a3a3a">p=0.03</text>
<text transform="translate(290.85 317.52) rotate(-90)" font-size="6.3" text-anchor="end" fill="#3a3a3a">p=0.001</text>
</g>
<g id="c3">
<path d="M399.90,440.20 V347.45 H412.70 V440.20" fill="#fff" stroke="#0000c8" stroke-width="2.5"/>
<path d="M416.10,440.20 V390.72 H428.90 V440.20" fill="#fff" stroke="#0000c8" stroke-width="2.5"/>
<path d="M432.00,440.20 V387.57 H444.80 V440.20" fill="#fff" stroke="#0000c8" stroke-width="2.5"/>
<path d="M448.00,440.20 V384.59 H460.80 V440.20" fill="#fff" stroke="#0000c8" stroke-width="2.5"/>
<path d="M463.80,440.20 V393.35 H476.60 V440.20" fill="#fff" stroke="#0000c8" stroke-width="2.5"/>
<path d="M479.90,440.20 V400.00 H492.70 V440.20" fill="#fff" stroke="#0000c8" stroke-width="2.5"/>
<line x1="406.30" y1="335.04" x2="406.30" y2="359.56" stroke="#111" stroke-width="0.8" stroke-linecap="butt"/>
<line x1="403.70" y1="335.04" x2="408.90" y2="335.04" stroke="#111" stroke-width="0.8" stroke-linecap="butt"/>
<line x1="403.70" y1="359.56" x2="408.90" y2="359.56" stroke="#111" stroke-width="0.8" stroke-linecap="butt"/>
<line x1="422.50" y1="378.83" x2="422.50" y2="402.13" stroke="#111" stroke-width="0.8" stroke-linecap="butt"/>
<line x1="419.90" y1="378.83" x2="425.10" y2="378.83" stroke="#111" stroke-width="0.8" stroke-linecap="butt"/>
<line x1="419.90" y1="402.13" x2="425.10" y2="402.13" stroke="#111" stroke-width="0.8" stroke-linecap="butt"/>
<line x1="438.40" y1="380.58" x2="438.40" y2="394.60" stroke="#111" stroke-width="0.8" stroke-linecap="butt"/>
<line x1="435.80" y1="380.58" x2="441.00" y2="380.58" stroke="#111" stroke-width="0.8" stroke-linecap="butt"/>
<line x1="435.80" y1="394.60" x2="441.00" y2="394.60" stroke="#111" stroke-width="0.8" stroke-linecap="butt"/>
<line x1="454.40" y1="377.08" x2="454.40" y2="391.09" stroke="#111" stroke-width="0.8" stroke-linecap="butt"/>
<line x1="451.80" y1="377.08" x2="457.00" y2="377.08" stroke="#111" stroke-width="0.8" stroke-linecap="butt"/>
<line x1="451.80" y1="391.09" x2="457.00" y2="391.09" stroke="#111" stroke-width="0.8" stroke-linecap="butt"/>
<line x1="470.20" y1="381.46" x2="470.20" y2="405.11" stroke="#111" stroke-width="0.8" stroke-linecap="butt"/>
<line x1="467.60" y1="381.46" x2="472.80" y2="381.46" stroke="#111" stroke-width="0.8" stroke-linecap="butt"/>
<line x1="467.60" y1="405.11" x2="472.80" y2="405.11" stroke="#111" stroke-width="0.8" stroke-linecap="butt"/>
<line x1="486.30" y1="389.34" x2="486.30" y2="409.49" stroke="#111" stroke-width="0.8" stroke-linecap="butt"/>
<line x1="483.70" y1="389.34" x2="488.90" y2="389.34" stroke="#111" stroke-width="0.8" stroke-linecap="butt"/>
<line x1="483.70" y1="409.49" x2="488.90" y2="409.49" stroke="#111" stroke-width="0.8" stroke-linecap="butt"/>
<line x1="394.00" y1="390.74" x2="494.00" y2="390.74" stroke="#ff3838" stroke-width="1.25" stroke-linecap="butt"/>
<line x1="394.00" y1="298.80" x2="394.00" y2="441.00" stroke="#000" stroke-width="1.65" stroke-linecap="butt"/>
<line x1="393.20" y1="440.20" x2="499.00" y2="440.20" stroke="#000" stroke-width="1.65" stroke-linecap="butt"/>
<line x1="388.70" y1="299.60" x2="394.00" y2="299.60" stroke="#000" stroke-width="1.5" stroke-linecap="butt"/>
<text transform="translate(387.80 303.00)" font-size="11.2" text-anchor="end" fill="#000">150</text>
<line x1="388.70" y1="346.80" x2="394.00" y2="346.80" stroke="#000" stroke-width="1.5" stroke-linecap="butt"/>
<text transform="translate(387.80 350.20)" font-size="11.2" text-anchor="end" fill="#000">100</text>
<line x1="388.70" y1="393.50" x2="394.00" y2="393.50" stroke="#000" stroke-width="1.5" stroke-linecap="butt"/>
<text transform="translate(387.80 396.90)" font-size="11.2" text-anchor="end" fill="#000">50</text>
<line x1="388.70" y1="440.20" x2="394.00" y2="440.20" stroke="#000" stroke-width="1.5" stroke-linecap="butt"/>
<text transform="translate(387.80 443.60)" font-size="11.2" text-anchor="end" fill="#000">0</text>
<line x1="406.30" y1="440.20" x2="406.30" y2="445.60" stroke="#000" stroke-width="1.5" stroke-linecap="butt"/>
<line x1="422.50" y1="440.20" x2="422.50" y2="445.60" stroke="#000" stroke-width="1.5" stroke-linecap="butt"/>
<line x1="438.40" y1="440.20" x2="438.40" y2="445.60" stroke="#000" stroke-width="1.5" stroke-linecap="butt"/>
<line x1="454.40" y1="440.20" x2="454.40" y2="445.60" stroke="#000" stroke-width="1.5" stroke-linecap="butt"/>
<line x1="470.20" y1="440.20" x2="470.20" y2="445.60" stroke="#000" stroke-width="1.5" stroke-linecap="butt"/>
<line x1="486.30" y1="440.20" x2="486.30" y2="445.60" stroke="#000" stroke-width="1.5" stroke-linecap="butt"/>
<circle cx="403.99" cy="331.53" r="2.55" fill="#0000c8" stroke="#000" stroke-width="0.8"/>
<circle cx="408.90" cy="335.56" r="2.55" fill="#0000c8" stroke="#000" stroke-width="0.8"/>
<circle cx="406.27" cy="336.44" r="2.55" fill="#0000c8" stroke="#000" stroke-width="0.8"/>
<circle cx="403.12" cy="346.95" r="2.55" fill="#0000c8" stroke="#000" stroke-width="0.8"/>
<circle cx="409.77" cy="348.70" r="2.55" fill="#0000c8" stroke="#000" stroke-width="0.8"/>
<circle cx="403.99" cy="359.56" r="2.55" fill="#0000c8" stroke="#000" stroke-width="0.8"/>
<circle cx="409.25" cy="359.56" r="2.55" fill="#0000c8" stroke="#000" stroke-width="0.8"/>
<circle cx="406.27" cy="361.66" r="2.55" fill="#0000c8" stroke="#000" stroke-width="0.8"/>
<circle cx="419.93" cy="375.33" r="2.55" fill="#0000c8" stroke="#000" stroke-width="0.8"/>
<circle cx="424.66" cy="380.93" r="2.55" fill="#0000c8" stroke="#000" stroke-width="0.8"/>
<circle cx="422.04" cy="382.34" r="2.55" fill="#0000c8" stroke="#000" stroke-width="0.8"/>
<circle cx="424.66" cy="385.49" r="2.55" fill="#0000c8" stroke="#000" stroke-width="0.8"/>
<circle cx="419.93" cy="391.45" r="2.55" fill="#0000c8" stroke="#000" stroke-width="0.8"/>
<circle cx="422.04" cy="392.32" r="2.55" fill="#0000c8" stroke="#000" stroke-width="0.8"/>
<circle cx="425.89" cy="405.64" r="2.55" fill="#0000c8" stroke="#000" stroke-width="0.8"/>
<circle cx="419.06" cy="410.01" r="2.55" fill="#0000c8" stroke="#000" stroke-width="0.8"/>
<circle cx="435.18" cy="380.58" r="2.55" fill="#0000c8" stroke="#000" stroke-width="0.8"/>
<circle cx="444.28" cy="384.61" r="2.55" fill="#0000c8" stroke="#000" stroke-width="0.8"/>
<circle cx="441.66" cy="389.34" r="2.55" fill="#0000c8" stroke="#000" stroke-width="0.8"/>
<circle cx="435.18" cy="396.00" r="2.55" fill="#0000c8" stroke="#000" stroke-width="0.8"/>
<circle cx="451.29" cy="374.45" r="2.55" fill="#0000c8" stroke="#000" stroke-width="0.8"/>
<circle cx="457.07" cy="380.23" r="2.55" fill="#0000c8" stroke="#000" stroke-width="0.8"/>
<circle cx="451.82" cy="384.96" r="2.55" fill="#0000c8" stroke="#000" stroke-width="0.8"/>
<circle cx="454.45" cy="389.69" r="2.55" fill="#0000c8" stroke="#000" stroke-width="0.8"/>
<circle cx="457.07" cy="390.22" r="2.55" fill="#0000c8" stroke="#000" stroke-width="0.8"/>
<circle cx="467.58" cy="382.34" r="2.55" fill="#0000c8" stroke="#000" stroke-width="0.8"/>
<circle cx="472.84" cy="381.99" r="2.55" fill="#0000c8" stroke="#000" stroke-width="0.8"/>
<circle cx="470.21" cy="385.84" r="2.55" fill="#0000c8" stroke="#000" stroke-width="0.8"/>
<circle cx="467.23" cy="408.61" r="2.55" fill="#0000c8" stroke="#000" stroke-width="0.8"/>
<circle cx="473.19" cy="407.74" r="2.55" fill="#0000c8" stroke="#000" stroke-width="0.8"/>
<circle cx="486.33" cy="387.94" r="2.55" fill="#0000c8" stroke="#000" stroke-width="0.8"/>
<circle cx="482.82" cy="399.50" r="2.55" fill="#0000c8" stroke="#000" stroke-width="0.8"/>
<circle cx="489.83" cy="400.20" r="2.55" fill="#0000c8" stroke="#000" stroke-width="0.8"/>
<circle cx="486.33" cy="408.61" r="2.55" fill="#0000c8" stroke="#000" stroke-width="0.8"/>
<text transform="translate(405.80 456.80)" font-size="11.2" text-anchor="middle" fill="#000">CM</text>
<text transform="translate(430.20 453.70) rotate(-45)" font-size="10.8" text-anchor="end" fill="#000">NT</text>
<text transform="translate(444.30 453.70) rotate(-45)" font-size="10.8" text-anchor="end" fill="#000">NCT</text>
<text transform="translate(459.90 453.70) rotate(-45)" font-size="10.8" text-anchor="end" fill="#000">JPH</text>
<text transform="translate(475.70 453.70) rotate(-45)" font-size="10.8" text-anchor="end" fill="#000">N/J</text>
<text transform="translate(490.60 453.70) rotate(-45)" font-size="10.8" text-anchor="end" fill="#000">Dasa</text>
<line x1="418.20" y1="482.10" x2="493.50" y2="482.10" stroke="#000" stroke-width="0.9" stroke-linecap="butt"/>
<text transform="translate(454.85 492.10) scale(0.93 1)" font-size="10.4" text-anchor="middle" fill="#000">low AA</text>
<text transform="translate(364.60 368.90) rotate(-90)" font-size="11.05" text-anchor="middle" fill="#000">Relative cell viability</text>
<text transform="translate(449.30 272.80)" font-size="12.1" text-anchor="middle" fill="#000">PDO #7</text>
<text transform="translate(449.30 287.40)" font-size="12.1" text-anchor="middle" fill="#000">(p53wt)</text>
</g>
<g id="c4">
<path d="M69.80,691.60 V598.42 H82.60 V691.60" fill="#fff" stroke="#0000c8" stroke-width="2.5"/>
<path d="M86.00,691.60 V608.93 H98.80 V691.60" fill="#fff" stroke="#0000c8" stroke-width="2.5"/>
<path d="M101.90,691.60 V628.73 H114.70 V691.60" fill="#fff" stroke="#0000c8" stroke-width="2.5"/>
<path d="M118.00,691.60 V628.73 H130.80 V691.60" fill="#fff" stroke="#0000c8" stroke-width="2.5"/>
<path d="M133.90,691.60 V651.50 H146.70 V691.60" fill="#fff" stroke="#0000c8" stroke-width="2.5"/>
<path d="M149.90,691.60 V641.69 H162.70 V691.60" fill="#fff" stroke="#0000c8" stroke-width="2.5"/>
<line x1="76.20" y1="589.51" x2="76.20" y2="606.68" stroke="#111" stroke-width="0.8" stroke-linecap="butt"/>
<line x1="73.60" y1="589.51" x2="78.80" y2="589.51" stroke="#111" stroke-width="0.8" stroke-linecap="butt"/>
<line x1="73.60" y1="606.68" x2="78.80" y2="606.68" stroke="#111" stroke-width="0.8" stroke-linecap="butt"/>
<line x1="92.40" y1="602.30" x2="92.40" y2="615.44" stroke="#111" stroke-width="0.8" stroke-linecap="butt"/>
<line x1="89.80" y1="602.30" x2="95.00" y2="602.30" stroke="#111" stroke-width="0.8" stroke-linecap="butt"/>
<line x1="89.80" y1="615.44" x2="95.00" y2="615.44" stroke="#111" stroke-width="0.8" stroke-linecap="butt"/>
<line x1="108.30" y1="622.09" x2="108.30" y2="634.71" stroke="#111" stroke-width="0.8" stroke-linecap="butt"/>
<line x1="105.70" y1="622.09" x2="110.90" y2="622.09" stroke="#111" stroke-width="0.8" stroke-linecap="butt"/>
<line x1="105.70" y1="634.71" x2="110.90" y2="634.71" stroke="#111" stroke-width="0.8" stroke-linecap="butt"/>
<line x1="124.40" y1="615.44" x2="124.40" y2="640.84" stroke="#111" stroke-width="0.8" stroke-linecap="butt"/>
<line x1="121.80" y1="615.44" x2="127.00" y2="615.44" stroke="#111" stroke-width="0.8" stroke-linecap="butt"/>
<line x1="121.80" y1="640.84" x2="127.00" y2="640.84" stroke="#111" stroke-width="0.8" stroke-linecap="butt"/>
<line x1="140.30" y1="635.06" x2="140.30" y2="667.12" stroke="#111" stroke-width="0.8" stroke-linecap="butt"/>
<line x1="137.70" y1="635.06" x2="142.90" y2="635.06" stroke="#111" stroke-width="0.8" stroke-linecap="butt"/>
<line x1="137.70" y1="667.12" x2="142.90" y2="667.12" stroke="#111" stroke-width="0.8" stroke-linecap="butt"/>
<line x1="156.30" y1="634.36" x2="156.30" y2="648.20" stroke="#111" stroke-width="0.8" stroke-linecap="butt"/>
<line x1="153.70" y1="634.36" x2="158.90" y2="634.36" stroke="#111" stroke-width="0.8" stroke-linecap="butt"/>
<line x1="153.70" y1="648.20" x2="158.90" y2="648.20" stroke="#111" stroke-width="0.8" stroke-linecap="butt"/>
<line x1="64.00" y1="608.78" x2="164.00" y2="608.78" stroke="#ff1212" stroke-width="1.25" stroke-linecap="butt"/>
<line x1="64.00" y1="550.10" x2="64.00" y2="692.40" stroke="#000" stroke-width="1.65" stroke-linecap="butt"/>
<line x1="63.20" y1="691.60" x2="169.50" y2="691.60" stroke="#000" stroke-width="1.65" stroke-linecap="butt"/>
<line x1="58.70" y1="550.90" x2="64.00" y2="550.90" stroke="#000" stroke-width="1.5" stroke-linecap="butt"/>
<text transform="translate(57.80 554.30)" font-size="11.2" text-anchor="end" fill="#000">150</text>
<line x1="58.70" y1="597.90" x2="64.00" y2="597.90" stroke="#000" stroke-width="1.5" stroke-linecap="butt"/>
<text transform="translate(57.80 601.30)" font-size="11.2" text-anchor="end" fill="#000">100</text>
<line x1="58.70" y1="644.80" x2="64.00" y2="644.80" stroke="#000" stroke-width="1.5" stroke-linecap="butt"/>
<text transform="translate(57.80 648.20)" font-size="11.2" text-anchor="end" fill="#000">50</text>
<line x1="58.70" y1="691.60" x2="64.00" y2="691.60" stroke="#000" stroke-width="1.5" stroke-linecap="butt"/>
<text transform="translate(57.80 695.00)" font-size="11.2" text-anchor="end" fill="#000">0</text>
<line x1="76.20" y1="691.60" x2="76.20" y2="697.00" stroke="#000" stroke-width="1.5" stroke-linecap="butt"/>
<line x1="92.40" y1="691.60" x2="92.40" y2="697.00" stroke="#000" stroke-width="1.5" stroke-linecap="butt"/>
<line x1="108.30" y1="691.60" x2="108.30" y2="697.00" stroke="#000" stroke-width="1.5" stroke-linecap="butt"/>
<line x1="124.40" y1="691.60" x2="124.40" y2="697.00" stroke="#000" stroke-width="1.5" stroke-linecap="butt"/>
<line x1="140.30" y1="691.60" x2="140.30" y2="697.00" stroke="#000" stroke-width="1.5" stroke-linecap="butt"/>
<line x1="156.30" y1="691.60" x2="156.30" y2="697.00" stroke="#000" stroke-width="1.5" stroke-linecap="butt"/>
<circle cx="79.42" cy="583.91" r="2.55" fill="#0000c8" stroke="#000" stroke-width="0.8"/>
<circle cx="73.12" cy="586.53" r="2.55" fill="#0000c8" stroke="#000" stroke-width="0.8"/>
<circle cx="72.42" cy="597.92" r="2.55" fill="#0000c8" stroke="#000" stroke-width="0.8"/>
<circle cx="80.65" cy="600.90" r="2.55" fill="#0000c8" stroke="#000" stroke-width="0.8"/>
<circle cx="75.04" cy="600.90" r="2.55" fill="#0000c8" stroke="#000" stroke-width="0.8"/>
<circle cx="79.25" cy="604.05" r="2.55" fill="#0000c8" stroke="#000" stroke-width="0.8"/>
<circle cx="73.12" cy="610.71" r="2.55" fill="#0000c8" stroke="#000" stroke-width="0.8"/>
<circle cx="94.66" cy="601.95" r="2.55" fill="#0000c8" stroke="#000" stroke-width="0.8"/>
<circle cx="89.76" cy="603.70" r="2.55" fill="#0000c8" stroke="#000" stroke-width="0.8"/>
<circle cx="92.04" cy="606.15" r="2.55" fill="#0000c8" stroke="#000" stroke-width="0.8"/>
<circle cx="89.41" cy="611.41" r="2.55" fill="#0000c8" stroke="#000" stroke-width="0.8"/>
<circle cx="95.89" cy="615.44" r="2.55" fill="#0000c8" stroke="#000" stroke-width="0.8"/>
<circle cx="92.56" cy="616.66" r="2.55" fill="#0000c8" stroke="#000" stroke-width="0.8"/>
<circle cx="104.30" cy="621.22" r="2.55" fill="#0000c8" stroke="#000" stroke-width="0.8"/>
<circle cx="112.18" cy="622.45" r="2.55" fill="#0000c8" stroke="#000" stroke-width="0.8"/>
<circle cx="106.93" cy="625.95" r="2.55" fill="#0000c8" stroke="#000" stroke-width="0.8"/>
<circle cx="110.43" cy="626.47" r="2.55" fill="#0000c8" stroke="#000" stroke-width="0.8"/>
<circle cx="105.18" cy="637.69" r="2.55" fill="#0000c8" stroke="#000" stroke-width="0.8"/>
<circle cx="111.66" cy="635.93" r="2.55" fill="#0000c8" stroke="#000" stroke-width="0.8"/>
<circle cx="124.45" cy="611.93" r="2.55" fill="#0000c8" stroke="#000" stroke-width="0.8"/>
<circle cx="126.55" cy="619.29" r="2.55" fill="#0000c8" stroke="#000" stroke-width="0.8"/>
<circle cx="121.82" cy="626.30" r="2.55" fill="#0000c8" stroke="#000" stroke-width="0.8"/>
<circle cx="124.45" cy="626.82" r="2.55" fill="#0000c8" stroke="#000" stroke-width="0.8"/>
<circle cx="127.42" cy="639.96" r="2.55" fill="#0000c8" stroke="#000" stroke-width="0.8"/>
<circle cx="120.94" cy="645.74" r="2.55" fill="#0000c8" stroke="#000" stroke-width="0.8"/>
<circle cx="140.21" cy="623.67" r="2.55" fill="#0000c8" stroke="#000" stroke-width="0.8"/>
<circle cx="137.93" cy="647.50" r="2.55" fill="#0000c8" stroke="#000" stroke-width="0.8"/>
<circle cx="142.49" cy="647.50" r="2.55" fill="#0000c8" stroke="#000" stroke-width="0.8"/>
<circle cx="140.21" cy="653.10" r="2.55" fill="#0000c8" stroke="#000" stroke-width="0.8"/>
<circle cx="143.19" cy="665.01" r="2.55" fill="#0000c8" stroke="#000" stroke-width="0.8"/>
<circle cx="137.06" cy="669.39" r="2.55" fill="#0000c8" stroke="#000" stroke-width="0.8"/>
<circle cx="153.00" cy="632.08" r="2.55" fill="#0000c8" stroke="#000" stroke-width="0.8"/>
<circle cx="159.48" cy="635.93" r="2.55" fill="#0000c8" stroke="#000" stroke-width="0.8"/>
<circle cx="153.00" cy="649.60" r="2.55" fill="#0000c8" stroke="#000" stroke-width="0.8"/>
<circle cx="159.48" cy="649.60" r="2.55" fill="#0000c8" stroke="#000" stroke-width="0.8"/>
<text transform="translate(75.70 708.20)" font-size="11.2" text-anchor="middle" fill="#000">CM</text>
<text transform="translate(100.10 705.10) rotate(-45)" font-size="10.8" text-anchor="end" fill="#000">NT</text>
<text transform="translate(114.20 705.10) rotate(-45)" font-size="10.8" text-anchor="end" fill="#000">NCT</text>
<text transform="translate(129.90 705.10) rotate(-45)" font-size="10.8" text-anchor="end" fill="#000">JPH</text>
<text transform="translate(145.80 705.10) rotate(-45)" font-size="10.8" text-anchor="end" fill="#000">N/J</text>
<text transform="translate(160.60 705.10) rotate(-45)" font-size="10.8" text-anchor="end" fill="#000">Dasa</text>
<line x1="89.00" y1="731.40" x2="164.00" y2="731.40" stroke="#000" stroke-width="0.9" stroke-linecap="butt"/>
<text transform="translate(125.50 741.40) scale(0.93 1)" font-size="10.4" text-anchor="middle" fill="#000">low AA</text>
<text transform="translate(32.00 620.25) rotate(-90)" font-size="11.05" text-anchor="middle" fill="#000">Relative cell viability</text>
<text transform="translate(119.80 534.40)" font-size="12.1" text-anchor="middle" fill="#000">PDO #9</text>
<text transform="translate(119.80 549.00)" font-size="12.1" text-anchor="middle" fill="#000">(p53mut)</text>
<text transform="translate(110.96 587.06) rotate(-90)" font-size="6.3" text-anchor="end" fill="#3a3a3a">p=0.0002</text>
<text transform="translate(125.85 587.06) rotate(-90)" font-size="6.3" text-anchor="end" fill="#3a3a3a">p=0.01</text>
<text transform="translate(141.61 587.06) rotate(-90)" font-size="6.3" text-anchor="end" fill="#3a3a3a">p=0.0009</text>
<text transform="translate(155.98 587.06) rotate(-90)" font-size="6.3" text-anchor="end" fill="#3a3a3a">p=0.002</text>
<polyline points="111.31,571.64 111.31,566.39 141.96,566.39 141.96,581.28" fill="none" stroke="#111" stroke-width="0.8"/>
<text transform="translate(127.60 564.64)" font-size="6.0" text-anchor="middle" fill="#3a3a3a">p=0.01</text>
<polyline points="125.32,583.91 125.32,578.65 138.46,578.65 138.46,583.91" fill="none" stroke="#111" stroke-width="0.8"/>
<text transform="translate(130.58 575.67)" font-size="6.0" text-anchor="middle" fill="#3a3a3a">p=0.02</text>
</g>
<g id="c5">
<path d="M230.20,691.20 V597.89 H243.00 V691.20" fill="#fff" stroke="#0000c8" stroke-width="2.5"/>
<path d="M246.50,691.20 V608.05 H259.30 V691.20" fill="#fff" stroke="#0000c8" stroke-width="2.5"/>
<path d="M262.30,691.20 V629.95 H275.10 V691.20" fill="#fff" stroke="#0000c8" stroke-width="2.5"/>
<path d="M278.40,691.20 V625.92 H291.20 V691.20" fill="#fff" stroke="#0000c8" stroke-width="2.5"/>
<path d="M294.20,691.20 V642.57 H307.00 V691.20" fill="#fff" stroke="#0000c8" stroke-width="2.5"/>
<path d="M310.10,691.20 V660.96 H322.90 V691.20" fill="#fff" stroke="#0000c8" stroke-width="2.5"/>
<line x1="236.60" y1="592.66" x2="236.60" y2="602.30" stroke="#111" stroke-width="0.8" stroke-linecap="butt"/>
<line x1="234.00" y1="592.66" x2="239.20" y2="592.66" stroke="#111" stroke-width="0.8" stroke-linecap="butt"/>
<line x1="234.00" y1="602.30" x2="239.20" y2="602.30" stroke="#111" stroke-width="0.8" stroke-linecap="butt"/>
<line x1="252.90" y1="599.67" x2="252.90" y2="615.44" stroke="#111" stroke-width="0.8" stroke-linecap="butt"/>
<line x1="250.30" y1="599.67" x2="255.50" y2="599.67" stroke="#111" stroke-width="0.8" stroke-linecap="butt"/>
<line x1="250.30" y1="615.44" x2="255.50" y2="615.44" stroke="#111" stroke-width="0.8" stroke-linecap="butt"/>
<line x1="268.70" y1="620.69" x2="268.70" y2="639.09" stroke="#111" stroke-width="0.8" stroke-linecap="butt"/>
<line x1="266.10" y1="620.69" x2="271.30" y2="620.69" stroke="#111" stroke-width="0.8" stroke-linecap="butt"/>
<line x1="266.10" y1="639.09" x2="271.30" y2="639.09" stroke="#111" stroke-width="0.8" stroke-linecap="butt"/>
<line x1="284.80" y1="611.41" x2="284.80" y2="639.44" stroke="#111" stroke-width="0.8" stroke-linecap="butt"/>
<line x1="282.20" y1="611.41" x2="287.40" y2="611.41" stroke="#111" stroke-width="0.8" stroke-linecap="butt"/>
<line x1="282.20" y1="639.44" x2="287.40" y2="639.44" stroke="#111" stroke-width="0.8" stroke-linecap="butt"/>
<line x1="300.60" y1="632.08" x2="300.60" y2="652.23" stroke="#111" stroke-width="0.8" stroke-linecap="butt"/>
<line x1="298.00" y1="632.08" x2="303.20" y2="632.08" stroke="#111" stroke-width="0.8" stroke-linecap="butt"/>
<line x1="298.00" y1="652.23" x2="303.20" y2="652.23" stroke="#111" stroke-width="0.8" stroke-linecap="butt"/>
<line x1="316.50" y1="648.37" x2="316.50" y2="672.02" stroke="#111" stroke-width="0.8" stroke-linecap="butt"/>
<line x1="313.90" y1="648.37" x2="319.10" y2="648.37" stroke="#111" stroke-width="0.8" stroke-linecap="butt"/>
<line x1="313.90" y1="672.02" x2="319.10" y2="672.02" stroke="#111" stroke-width="0.8" stroke-linecap="butt"/>
<line x1="224.50" y1="607.55" x2="325.00" y2="607.55" stroke="#ff1212" stroke-width="1.25" stroke-linecap="butt"/>
<line x1="224.50" y1="549.50" x2="224.50" y2="692.00" stroke="#000" stroke-width="1.65" stroke-linecap="butt"/>
<line x1="223.70" y1="691.20" x2="330.00" y2="691.20" stroke="#000" stroke-width="1.65" stroke-linecap="butt"/>
<line x1="219.20" y1="550.30" x2="224.50" y2="550.30" stroke="#000" stroke-width="1.5" stroke-linecap="butt"/>
<text transform="translate(218.30 553.70)" font-size="11.2" text-anchor="end" fill="#000">150</text>
<line x1="219.20" y1="597.40" x2="224.50" y2="597.40" stroke="#000" stroke-width="1.5" stroke-linecap="butt"/>
<text transform="translate(218.30 600.80)" font-size="11.2" text-anchor="end" fill="#000">100</text>
<line x1="219.20" y1="644.20" x2="224.50" y2="644.20" stroke="#000" stroke-width="1.5" stroke-linecap="butt"/>
<text transform="translate(218.30 647.60)" font-size="11.2" text-anchor="end" fill="#000">50</text>
<line x1="219.20" y1="691.20" x2="224.50" y2="691.20" stroke="#000" stroke-width="1.5" stroke-linecap="butt"/>
<text transform="translate(218.30 694.60)" font-size="11.2" text-anchor="end" fill="#000">0</text>
<line x1="236.60" y1="691.20" x2="236.60" y2="696.60" stroke="#000" stroke-width="1.5" stroke-linecap="butt"/>
<line x1="252.90" y1="691.20" x2="252.90" y2="696.60" stroke="#000" stroke-width="1.5" stroke-linecap="butt"/>
<line x1="268.70" y1="691.20" x2="268.70" y2="696.60" stroke="#000" stroke-width="1.5" stroke-linecap="butt"/>
<line x1="284.80" y1="691.20" x2="284.80" y2="696.60" stroke="#000" stroke-width="1.5" stroke-linecap="butt"/>
<line x1="300.60" y1="691.20" x2="300.60" y2="696.60" stroke="#000" stroke-width="1.5" stroke-linecap="butt"/>
<line x1="316.50" y1="691.20" x2="316.50" y2="696.60" stroke="#000" stroke-width="1.5" stroke-linecap="butt"/>
<circle cx="238.90" cy="591.26" r="2.55" fill="#0000c8" stroke="#000" stroke-width="0.8"/>
<circle cx="234.52" cy="593.89" r="2.55" fill="#0000c8" stroke="#000" stroke-width="0.8"/>
<circle cx="232.77" cy="596.17" r="2.55" fill="#0000c8" stroke="#000" stroke-width="0.8"/>
<circle cx="239.77" cy="596.17" r="2.55" fill="#0000c8" stroke="#000" stroke-width="0.8"/>
<circle cx="236.62" cy="597.92" r="2.55" fill="#0000c8" stroke="#000" stroke-width="0.8"/>
<circle cx="240.65" cy="599.67" r="2.55" fill="#0000c8" stroke="#000" stroke-width="0.8"/>
<circle cx="233.64" cy="602.30" r="2.55" fill="#0000c8" stroke="#000" stroke-width="0.8"/>
<circle cx="237.67" cy="603.18" r="2.55" fill="#0000c8" stroke="#000" stroke-width="0.8"/>
<circle cx="249.76" cy="595.82" r="2.55" fill="#0000c8" stroke="#000" stroke-width="0.8"/>
<circle cx="256.07" cy="595.82" r="2.55" fill="#0000c8" stroke="#000" stroke-width="0.8"/>
<circle cx="253.26" cy="606.15" r="2.55" fill="#0000c8" stroke="#000" stroke-width="0.8"/>
<circle cx="250.28" cy="607.55" r="2.55" fill="#0000c8" stroke="#000" stroke-width="0.8"/>
<circle cx="255.89" cy="609.31" r="2.55" fill="#0000c8" stroke="#000" stroke-width="0.8"/>
<circle cx="250.28" cy="613.69" r="2.55" fill="#0000c8" stroke="#000" stroke-width="0.8"/>
<circle cx="255.54" cy="614.56" r="2.55" fill="#0000c8" stroke="#000" stroke-width="0.8"/>
<circle cx="252.91" cy="619.82" r="2.55" fill="#0000c8" stroke="#000" stroke-width="0.8"/>
<circle cx="268.68" cy="616.66" r="2.55" fill="#0000c8" stroke="#000" stroke-width="0.8"/>
<circle cx="266.05" cy="619.47" r="2.55" fill="#0000c8" stroke="#000" stroke-width="0.8"/>
<circle cx="271.66" cy="619.47" r="2.55" fill="#0000c8" stroke="#000" stroke-width="0.8"/>
<circle cx="268.68" cy="626.82" r="2.55" fill="#0000c8" stroke="#000" stroke-width="0.8"/>
<circle cx="268.68" cy="636.46" r="2.55" fill="#0000c8" stroke="#000" stroke-width="0.8"/>
<circle cx="272.18" cy="642.59" r="2.55" fill="#0000c8" stroke="#000" stroke-width="0.8"/>
<circle cx="265.53" cy="645.57" r="2.55" fill="#0000c8" stroke="#000" stroke-width="0.8"/>
<circle cx="284.80" cy="606.33" r="2.55" fill="#0000c8" stroke="#000" stroke-width="0.8"/>
<circle cx="281.82" cy="616.66" r="2.55" fill="#0000c8" stroke="#000" stroke-width="0.8"/>
<circle cx="287.42" cy="616.66" r="2.55" fill="#0000c8" stroke="#000" stroke-width="0.8"/>
<circle cx="284.80" cy="626.82" r="2.55" fill="#0000c8" stroke="#000" stroke-width="0.8"/>
<circle cx="284.45" cy="634.71" r="2.55" fill="#0000c8" stroke="#000" stroke-width="0.8"/>
<circle cx="287.95" cy="639.96" r="2.55" fill="#0000c8" stroke="#000" stroke-width="0.8"/>
<circle cx="281.29" cy="644.34" r="2.55" fill="#0000c8" stroke="#000" stroke-width="0.8"/>
<circle cx="300.74" cy="623.85" r="2.55" fill="#0000c8" stroke="#000" stroke-width="0.8"/>
<circle cx="303.19" cy="636.46" r="2.55" fill="#0000c8" stroke="#000" stroke-width="0.8"/>
<circle cx="297.58" cy="640.84" r="2.55" fill="#0000c8" stroke="#000" stroke-width="0.8"/>
<circle cx="300.56" cy="642.07" r="2.55" fill="#0000c8" stroke="#000" stroke-width="0.8"/>
<circle cx="298.46" cy="646.97" r="2.55" fill="#0000c8" stroke="#000" stroke-width="0.8"/>
<circle cx="303.19" cy="651.00" r="2.55" fill="#0000c8" stroke="#000" stroke-width="0.8"/>
<circle cx="300.56" cy="653.63" r="2.55" fill="#0000c8" stroke="#000" stroke-width="0.8"/>
<circle cx="314.23" cy="651.35" r="2.55" fill="#0000c8" stroke="#000" stroke-width="0.8"/>
<circle cx="319.48" cy="651.35" r="2.55" fill="#0000c8" stroke="#000" stroke-width="0.8"/>
<circle cx="316.50" cy="658.36" r="2.55" fill="#0000c8" stroke="#000" stroke-width="0.8"/>
<circle cx="316.50" cy="678.50" r="2.55" fill="#0000c8" stroke="#000" stroke-width="0.8"/>
<text transform="translate(236.10 707.80)" font-size="11.2" text-anchor="middle" fill="#000">CM</text>
<text transform="translate(260.60 704.70) rotate(-45)" font-size="10.8" text-anchor="end" fill="#000">NT</text>
<text transform="translate(274.60 704.70) rotate(-45)" font-size="10.8" text-anchor="end" fill="#000">NCT</text>
<text transform="translate(290.30 704.70) rotate(-45)" font-size="10.8" text-anchor="end" fill="#000">JPH</text>
<text transform="translate(306.10 704.70) rotate(-45)" font-size="10.8" text-anchor="end" fill="#000">N/J</text>
<text transform="translate(320.80 704.70) rotate(-45)" font-size="10.8" text-anchor="end" fill="#000">Dasa</text>
<line x1="249.50" y1="731.40" x2="324.50" y2="731.40" stroke="#000" stroke-width="0.9" stroke-linecap="butt"/>
<text transform="translate(286.00 741.40) scale(0.93 1)" font-size="10.4" text-anchor="middle" fill="#000">low AA</text>
<text transform="translate(195.20 619.75) rotate(-90)" font-size="11.05" text-anchor="middle" fill="#000">Relative cell viability</text>
<text transform="translate(281.50 534.40)" font-size="12.1" text-anchor="middle" fill="#000">PDO #12</text>
<text transform="translate(281.50 549.00)" font-size="12.1" text-anchor="middle" fill="#000">(p53mut)</text>
<text transform="translate(270.96 583.91) rotate(-90)" font-size="6.3" text-anchor="end" fill="#3a3a3a">p=0.001</text>
<text transform="translate(284.62 583.91) rotate(-90)" font-size="6.3" text-anchor="end" fill="#3a3a3a">p=0.01</text>
<text transform="translate(300.74 583.91) rotate(-90)" font-size="6.3" text-anchor="end" fill="#3a3a3a">p&lt;0.0001</text>
<text transform="translate(316.85 583.91) rotate(-90)" font-size="6.3" text-anchor="end" fill="#3a3a3a">p=0.0009</text>
<polyline points="270.43,570.77 270.43,565.51 301.96,565.51 301.96,580.40" fill="none" stroke="#111" stroke-width="0.8"/>
<text transform="translate(285.32 562.88)" font-size="6.0" text-anchor="middle" fill="#3a3a3a">p=0.02</text>
<polyline points="283.22,582.15 283.22,576.37 297.23,576.37 297.23,582.15" fill="none" stroke="#111" stroke-width="0.8"/>
<text transform="translate(288.82 573.92)" font-size="6.0" text-anchor="middle" fill="#3a3a3a">p=0.007</text>
</g>
<g id="c6">
<path d="M392.90,691.00 V609.19 H405.70 V691.00" fill="#fff" stroke="#0000c8" stroke-width="2.5"/>
<path d="M408.80,691.00 V624.95 H421.60 V691.00" fill="#fff" stroke="#0000c8" stroke-width="2.5"/>
<path d="M424.60,691.00 V652.91 H437.40 V691.00" fill="#fff" stroke="#0000c8" stroke-width="2.5"/>
<path d="M440.60,691.00 V653.78 H453.40 V691.00" fill="#fff" stroke="#0000c8" stroke-width="2.5"/>
<path d="M456.40,691.00 V673.58 H469.20 V691.00" fill="#fff" stroke="#0000c8" stroke-width="2.5"/>
<path d="M472.60,691.00 V665.17 H485.40 V691.00" fill="#fff" stroke="#0000c8" stroke-width="2.5"/>
<line x1="399.30" y1="583.28" x2="399.30" y2="634.09" stroke="#111" stroke-width="0.8" stroke-linecap="butt"/>
<line x1="396.70" y1="583.28" x2="401.90" y2="583.28" stroke="#111" stroke-width="0.8" stroke-linecap="butt"/>
<line x1="396.70" y1="634.09" x2="401.90" y2="634.09" stroke="#111" stroke-width="0.8" stroke-linecap="butt"/>
<line x1="415.20" y1="601.33" x2="415.20" y2="647.58" stroke="#111" stroke-width="0.8" stroke-linecap="butt"/>
<line x1="412.60" y1="601.33" x2="417.80" y2="601.33" stroke="#111" stroke-width="0.8" stroke-linecap="butt"/>
<line x1="412.60" y1="647.58" x2="417.80" y2="647.58" stroke="#111" stroke-width="0.8" stroke-linecap="butt"/>
<line x1="431.00" y1="628.23" x2="431.00" y2="676.06" stroke="#111" stroke-width="0.8" stroke-linecap="butt"/>
<line x1="428.40" y1="628.23" x2="433.60" y2="628.23" stroke="#111" stroke-width="0.8" stroke-linecap="butt"/>
<line x1="428.40" y1="676.06" x2="433.60" y2="676.06" stroke="#111" stroke-width="0.8" stroke-linecap="butt"/>
<line x1="447.00" y1="638.39" x2="447.00" y2="669.05" stroke="#111" stroke-width="0.8" stroke-linecap="butt"/>
<line x1="444.40" y1="638.39" x2="449.60" y2="638.39" stroke="#111" stroke-width="0.8" stroke-linecap="butt"/>
<line x1="444.40" y1="669.05" x2="449.60" y2="669.05" stroke="#111" stroke-width="0.8" stroke-linecap="butt"/>
<line x1="462.80" y1="666.95" x2="462.80" y2="679.56" stroke="#111" stroke-width="0.8" stroke-linecap="butt"/>
<line x1="460.20" y1="666.95" x2="465.40" y2="666.95" stroke="#111" stroke-width="0.8" stroke-linecap="butt"/>
<line x1="460.20" y1="679.56" x2="465.40" y2="679.56" stroke="#111" stroke-width="0.8" stroke-linecap="butt"/>
<line x1="479.00" y1="659.42" x2="479.00" y2="673.08" stroke="#111" stroke-width="0.8" stroke-linecap="butt"/>
<line x1="476.40" y1="659.42" x2="481.60" y2="659.42" stroke="#111" stroke-width="0.8" stroke-linecap="butt"/>
<line x1="476.40" y1="673.08" x2="481.60" y2="673.08" stroke="#111" stroke-width="0.8" stroke-linecap="butt"/>
<line x1="387.00" y1="624.80" x2="487.00" y2="624.80" stroke="#ff1212" stroke-width="1.25" stroke-linecap="butt"/>
<line x1="387.00" y1="549.40" x2="387.00" y2="691.80" stroke="#000" stroke-width="1.65" stroke-linecap="butt"/>
<line x1="386.20" y1="691.00" x2="492.50" y2="691.00" stroke="#000" stroke-width="1.65" stroke-linecap="butt"/>
<line x1="381.70" y1="567.50" x2="387.00" y2="567.50" stroke="#000" stroke-width="1.5" stroke-linecap="butt"/>
<text transform="translate(380.80 570.90)" font-size="11.2" text-anchor="end" fill="#000">150</text>
<line x1="381.70" y1="608.90" x2="387.00" y2="608.90" stroke="#000" stroke-width="1.5" stroke-linecap="butt"/>
<text transform="translate(380.80 612.30)" font-size="11.2" text-anchor="end" fill="#000">100</text>
<line x1="381.70" y1="650.00" x2="387.00" y2="650.00" stroke="#000" stroke-width="1.5" stroke-linecap="butt"/>
<text transform="translate(380.80 653.40)" font-size="11.2" text-anchor="end" fill="#000">50</text>
<line x1="381.70" y1="691.00" x2="387.00" y2="691.00" stroke="#000" stroke-width="1.5" stroke-linecap="butt"/>
<text transform="translate(380.80 694.40)" font-size="11.2" text-anchor="end" fill="#000">0</text>
<line x1="399.30" y1="691.00" x2="399.30" y2="696.40" stroke="#000" stroke-width="1.5" stroke-linecap="butt"/>
<line x1="415.20" y1="691.00" x2="415.20" y2="696.40" stroke="#000" stroke-width="1.5" stroke-linecap="butt"/>
<line x1="431.00" y1="691.00" x2="431.00" y2="696.40" stroke="#000" stroke-width="1.5" stroke-linecap="butt"/>
<line x1="447.00" y1="691.00" x2="447.00" y2="696.40" stroke="#000" stroke-width="1.5" stroke-linecap="butt"/>
<line x1="462.80" y1="691.00" x2="462.80" y2="696.40" stroke="#000" stroke-width="1.5" stroke-linecap="butt"/>
<line x1="479.00" y1="691.00" x2="479.00" y2="696.40" stroke="#000" stroke-width="1.5" stroke-linecap="butt"/>
<circle cx="399.27" cy="562.79" r="2.55" fill="#0000c8" stroke="#000" stroke-width="0.8"/>
<circle cx="396.12" cy="608.69" r="2.55" fill="#0000c8" stroke="#000" stroke-width="0.8"/>
<circle cx="402.42" cy="607.46" r="2.55" fill="#0000c8" stroke="#000" stroke-width="0.8"/>
<circle cx="399.27" cy="610.44" r="2.55" fill="#0000c8" stroke="#000" stroke-width="0.8"/>
<circle cx="402.42" cy="630.23" r="2.55" fill="#0000c8" stroke="#000" stroke-width="0.8"/>
<circle cx="396.12" cy="633.74" r="2.55" fill="#0000c8" stroke="#000" stroke-width="0.8"/>
<circle cx="418.54" cy="589.42" r="2.55" fill="#0000c8" stroke="#000" stroke-width="0.8"/>
<circle cx="412.06" cy="597.30" r="2.55" fill="#0000c8" stroke="#000" stroke-width="0.8"/>
<circle cx="415.56" cy="619.72" r="2.55" fill="#0000c8" stroke="#000" stroke-width="0.8"/>
<circle cx="419.94" cy="638.47" r="2.55" fill="#0000c8" stroke="#000" stroke-width="0.8"/>
<circle cx="411.18" cy="641.09" r="2.55" fill="#0000c8" stroke="#000" stroke-width="0.8"/>
<circle cx="416.79" cy="641.45" r="2.55" fill="#0000c8" stroke="#000" stroke-width="0.8"/>
<circle cx="413.81" cy="646.00" r="2.55" fill="#0000c8" stroke="#000" stroke-width="0.8"/>
<circle cx="431.33" cy="611.84" r="2.55" fill="#0000c8" stroke="#000" stroke-width="0.8"/>
<circle cx="447.45" cy="628.48" r="2.55" fill="#0000c8" stroke="#000" stroke-width="0.8"/>
<circle cx="428.70" cy="657.31" r="2.55" fill="#0000c8" stroke="#000" stroke-width="0.8"/>
<circle cx="433.96" cy="656.79" r="2.55" fill="#0000c8" stroke="#000" stroke-width="0.8"/>
<circle cx="431.33" cy="661.52" r="2.55" fill="#0000c8" stroke="#000" stroke-width="0.8"/>
<circle cx="431.33" cy="676.06" r="2.55" fill="#0000c8" stroke="#000" stroke-width="0.8"/>
<circle cx="447.45" cy="650.66" r="2.55" fill="#0000c8" stroke="#000" stroke-width="0.8"/>
<circle cx="444.47" cy="661.17" r="2.55" fill="#0000c8" stroke="#000" stroke-width="0.8"/>
<circle cx="450.07" cy="662.92" r="2.55" fill="#0000c8" stroke="#000" stroke-width="0.8"/>
<circle cx="447.45" cy="665.20" r="2.55" fill="#0000c8" stroke="#000" stroke-width="0.8"/>
<circle cx="463.21" cy="661.17" r="2.55" fill="#0000c8" stroke="#000" stroke-width="0.8"/>
<circle cx="460.23" cy="672.55" r="2.55" fill="#0000c8" stroke="#000" stroke-width="0.8"/>
<circle cx="465.84" cy="673.08" r="2.55" fill="#0000c8" stroke="#000" stroke-width="0.8"/>
<circle cx="461.99" cy="676.93" r="2.55" fill="#0000c8" stroke="#000" stroke-width="0.8"/>
<circle cx="464.61" cy="676.93" r="2.55" fill="#0000c8" stroke="#000" stroke-width="0.8"/>
<circle cx="463.21" cy="680.44" r="2.55" fill="#0000c8" stroke="#000" stroke-width="0.8"/>
<circle cx="481.61" cy="657.31" r="2.55" fill="#0000c8" stroke="#000" stroke-width="0.8"/>
<circle cx="476.88" cy="659.94" r="2.55" fill="#0000c8" stroke="#000" stroke-width="0.8"/>
<circle cx="479.33" cy="665.55" r="2.55" fill="#0000c8" stroke="#000" stroke-width="0.8"/>
<circle cx="479.33" cy="676.41" r="2.55" fill="#0000c8" stroke="#000" stroke-width="0.8"/>
<text transform="translate(398.80 707.60)" font-size="11.2" text-anchor="middle" fill="#000">CM</text>
<text transform="translate(422.90 704.50) rotate(-45)" font-size="10.8" text-anchor="end" fill="#000">NT</text>
<text transform="translate(436.90 704.50) rotate(-45)" font-size="10.8" text-anchor="end" fill="#000">NCT</text>
<text transform="translate(452.50 704.50) rotate(-45)" font-size="10.8" text-anchor="end" fill="#000">JPH</text>
<text transform="translate(468.30 704.50) rotate(-45)" font-size="10.8" text-anchor="end" fill="#000">N/J</text>
<text transform="translate(483.30 704.50) rotate(-45)" font-size="10.8" text-anchor="end" fill="#000">Dasa</text>
<line x1="411.20" y1="732.10" x2="486.00" y2="732.10" stroke="#000" stroke-width="0.9" stroke-linecap="butt"/>
<text transform="translate(447.60 742.10) scale(0.93 1)" font-size="10.4" text-anchor="middle" fill="#000">low AA</text>
<text transform="translate(357.50 619.60) rotate(-90)" font-size="11.05" text-anchor="middle" fill="#000">Relative cell viability</text>
<text transform="translate(444.30 534.10)" font-size="12.1" text-anchor="middle" fill="#000">PDO #13</text>
<text transform="translate(444.30 548.70)" font-size="12.1" text-anchor="middle" fill="#000">(p53mut)</text>
<text transform="translate(449.72 602.55) rotate(-90)" font-size="6.3" text-anchor="end" fill="#3a3a3a">p=0.02</text>
<text transform="translate(464.26 602.55) rotate(-90)" font-size="6.3" text-anchor="end" fill="#3a3a3a">p=0.001</text>
<text transform="translate(479.50 602.55) rotate(-90)" font-size="6.3" text-anchor="end" fill="#3a3a3a">p=0.003</text>
<polyline points="447.80,597.30 447.80,592.57 460.23,592.57 460.23,597.30" fill="none" stroke="#111" stroke-width="0.8"/>
<text transform="translate(453.58 589.94)" font-size="6.0" text-anchor="middle" fill="#3a3a3a">p=0.03</text>
</g>
<g id="c7">
<path d="M557.00,691.40 V598.68 H569.80 V691.40" fill="#fff" stroke="#0000c8" stroke-width="2.5"/>
<path d="M573.10,691.40 V598.68 H585.90 V691.40" fill="#fff" stroke="#0000c8" stroke-width="2.5"/>
<path d="M589.00,691.40 V641.59 H601.80 V691.40" fill="#fff" stroke="#0000c8" stroke-width="2.5"/>
<path d="M604.80,691.40 V627.23 H617.60 V691.40" fill="#fff" stroke="#0000c8" stroke-width="2.5"/>
<path d="M620.90,691.40 V651.76 H633.70 V691.40" fill="#fff" stroke="#0000c8" stroke-width="2.5"/>
<path d="M636.70,691.40 V648.60 H649.50 V691.40" fill="#fff" stroke="#0000c8" stroke-width="2.5"/>
<line x1="563.40" y1="583.28" x2="563.40" y2="611.66" stroke="#111" stroke-width="0.8" stroke-linecap="butt"/>
<line x1="560.80" y1="583.28" x2="566.00" y2="583.28" stroke="#111" stroke-width="0.8" stroke-linecap="butt"/>
<line x1="560.80" y1="611.66" x2="566.00" y2="611.66" stroke="#111" stroke-width="0.8" stroke-linecap="butt"/>
<line x1="579.50" y1="583.64" x2="579.50" y2="613.07" stroke="#111" stroke-width="0.8" stroke-linecap="butt"/>
<line x1="576.90" y1="583.64" x2="582.10" y2="583.64" stroke="#111" stroke-width="0.8" stroke-linecap="butt"/>
<line x1="576.90" y1="613.07" x2="582.10" y2="613.07" stroke="#111" stroke-width="0.8" stroke-linecap="butt"/>
<line x1="595.40" y1="619.20" x2="595.40" y2="662.12" stroke="#111" stroke-width="0.8" stroke-linecap="butt"/>
<line x1="592.80" y1="619.20" x2="598.00" y2="619.20" stroke="#111" stroke-width="0.8" stroke-linecap="butt"/>
<line x1="592.80" y1="662.12" x2="598.00" y2="662.12" stroke="#111" stroke-width="0.8" stroke-linecap="butt"/>
<line x1="611.20" y1="620.07" x2="611.20" y2="633.74" stroke="#111" stroke-width="0.8" stroke-linecap="butt"/>
<line x1="608.60" y1="620.07" x2="613.80" y2="620.07" stroke="#111" stroke-width="0.8" stroke-linecap="butt"/>
<line x1="608.60" y1="633.74" x2="613.80" y2="633.74" stroke="#111" stroke-width="0.8" stroke-linecap="butt"/>
<line x1="627.30" y1="628.83" x2="627.30" y2="675.18" stroke="#111" stroke-width="0.8" stroke-linecap="butt"/>
<line x1="624.70" y1="628.83" x2="629.90" y2="628.83" stroke="#111" stroke-width="0.8" stroke-linecap="butt"/>
<line x1="624.70" y1="675.18" x2="629.90" y2="675.18" stroke="#111" stroke-width="0.8" stroke-linecap="butt"/>
<line x1="643.10" y1="623.58" x2="643.10" y2="672.91" stroke="#111" stroke-width="0.8" stroke-linecap="butt"/>
<line x1="640.50" y1="623.58" x2="645.70" y2="623.58" stroke="#111" stroke-width="0.8" stroke-linecap="butt"/>
<line x1="640.50" y1="672.91" x2="645.70" y2="672.91" stroke="#111" stroke-width="0.8" stroke-linecap="butt"/>
<line x1="551.70" y1="598.18" x2="652.00" y2="598.18" stroke="#ff1212" stroke-width="1.25" stroke-linecap="butt"/>
<line x1="551.70" y1="550.20" x2="551.70" y2="692.20" stroke="#000" stroke-width="1.65" stroke-linecap="butt"/>
<line x1="550.90" y1="691.40" x2="657.00" y2="691.40" stroke="#000" stroke-width="1.65" stroke-linecap="butt"/>
<line x1="546.40" y1="551.00" x2="551.70" y2="551.00" stroke="#000" stroke-width="1.5" stroke-linecap="butt"/>
<text transform="translate(545.50 554.40)" font-size="11.2" text-anchor="end" fill="#000">150</text>
<line x1="546.40" y1="598.20" x2="551.70" y2="598.20" stroke="#000" stroke-width="1.5" stroke-linecap="butt"/>
<text transform="translate(545.50 601.60)" font-size="11.2" text-anchor="end" fill="#000">100</text>
<line x1="546.40" y1="645.00" x2="551.70" y2="645.00" stroke="#000" stroke-width="1.5" stroke-linecap="butt"/>
<text transform="translate(545.50 648.40)" font-size="11.2" text-anchor="end" fill="#000">50</text>
<line x1="546.40" y1="691.40" x2="551.70" y2="691.40" stroke="#000" stroke-width="1.5" stroke-linecap="butt"/>
<text transform="translate(545.50 694.80)" font-size="11.2" text-anchor="end" fill="#000">0</text>
<line x1="563.40" y1="691.40" x2="563.40" y2="696.80" stroke="#000" stroke-width="1.5" stroke-linecap="butt"/>
<line x1="579.50" y1="691.40" x2="579.50" y2="696.80" stroke="#000" stroke-width="1.5" stroke-linecap="butt"/>
<line x1="595.40" y1="691.40" x2="595.40" y2="696.80" stroke="#000" stroke-width="1.5" stroke-linecap="butt"/>
<line x1="611.20" y1="691.40" x2="611.20" y2="696.80" stroke="#000" stroke-width="1.5" stroke-linecap="butt"/>
<line x1="627.30" y1="691.40" x2="627.30" y2="696.80" stroke="#000" stroke-width="1.5" stroke-linecap="butt"/>
<line x1="643.10" y1="691.40" x2="643.10" y2="696.80" stroke="#000" stroke-width="1.5" stroke-linecap="butt"/>
<circle cx="561.29" cy="583.28" r="2.55" fill="#0000c8" stroke="#000" stroke-width="0.8"/>
<circle cx="566.02" cy="582.41" r="2.55" fill="#0000c8" stroke="#000" stroke-width="0.8"/>
<circle cx="563.39" cy="587.31" r="2.55" fill="#0000c8" stroke="#000" stroke-width="0.8"/>
<circle cx="556.91" cy="598.18" r="2.55" fill="#0000c8" stroke="#000" stroke-width="0.8"/>
<circle cx="566.55" cy="598.18" r="2.55" fill="#0000c8" stroke="#000" stroke-width="0.8"/>
<circle cx="560.42" cy="601.68" r="2.55" fill="#0000c8" stroke="#000" stroke-width="0.8"/>
<circle cx="566.37" cy="609.91" r="2.55" fill="#0000c8" stroke="#000" stroke-width="0.8"/>
<circle cx="563.39" cy="625.33" r="2.55" fill="#0000c8" stroke="#000" stroke-width="0.8"/>
<circle cx="579.51" cy="575.75" r="2.55" fill="#0000c8" stroke="#000" stroke-width="0.8"/>
<circle cx="582.66" cy="585.56" r="2.55" fill="#0000c8" stroke="#000" stroke-width="0.8"/>
<circle cx="576.18" cy="592.04" r="2.55" fill="#0000c8" stroke="#000" stroke-width="0.8"/>
<circle cx="576.88" cy="600.45" r="2.55" fill="#0000c8" stroke="#000" stroke-width="0.8"/>
<circle cx="582.14" cy="598.70" r="2.55" fill="#0000c8" stroke="#000" stroke-width="0.8"/>
<circle cx="579.51" cy="601.15" r="2.55" fill="#0000c8" stroke="#000" stroke-width="0.8"/>
<circle cx="576.18" cy="620.07" r="2.55" fill="#0000c8" stroke="#000" stroke-width="0.8"/>
<circle cx="582.66" cy="617.45" r="2.55" fill="#0000c8" stroke="#000" stroke-width="0.8"/>
<circle cx="595.45" cy="617.97" r="2.55" fill="#0000c8" stroke="#000" stroke-width="0.8"/>
<circle cx="597.91" cy="625.33" r="2.55" fill="#0000c8" stroke="#000" stroke-width="0.8"/>
<circle cx="592.82" cy="630.93" r="2.55" fill="#0000c8" stroke="#000" stroke-width="0.8"/>
<circle cx="595.45" cy="632.69" r="2.55" fill="#0000c8" stroke="#000" stroke-width="0.8"/>
<circle cx="595.45" cy="646.00" r="2.55" fill="#0000c8" stroke="#000" stroke-width="0.8"/>
<circle cx="595.45" cy="656.86" r="2.55" fill="#0000c8" stroke="#000" stroke-width="0.8"/>
<circle cx="611.22" cy="617.45" r="2.55" fill="#0000c8" stroke="#000" stroke-width="0.8"/>
<circle cx="608.07" cy="622.70" r="2.55" fill="#0000c8" stroke="#000" stroke-width="0.8"/>
<circle cx="617.70" cy="627.08" r="2.55" fill="#0000c8" stroke="#000" stroke-width="0.8"/>
<circle cx="614.20" cy="630.93" r="2.55" fill="#0000c8" stroke="#000" stroke-width="0.8"/>
<circle cx="608.07" cy="637.07" r="2.55" fill="#0000c8" stroke="#000" stroke-width="0.8"/>
<circle cx="624.71" cy="631.99" r="2.55" fill="#0000c8" stroke="#000" stroke-width="0.8"/>
<circle cx="629.44" cy="634.09" r="2.55" fill="#0000c8" stroke="#000" stroke-width="0.8"/>
<circle cx="624.18" cy="644.60" r="2.55" fill="#0000c8" stroke="#000" stroke-width="0.8"/>
<circle cx="630.31" cy="647.23" r="2.55" fill="#0000c8" stroke="#000" stroke-width="0.8"/>
<circle cx="643.45" cy="627.08" r="2.55" fill="#0000c8" stroke="#000" stroke-width="0.8"/>
<circle cx="639.95" cy="640.22" r="2.55" fill="#0000c8" stroke="#000" stroke-width="0.8"/>
<circle cx="646.61" cy="641.45" r="2.55" fill="#0000c8" stroke="#000" stroke-width="0.8"/>
<circle cx="595.45" cy="679.21" r="2.55" fill="#0000c8" stroke="#000" stroke-width="0.8"/>
<circle cx="630.31" cy="681.84" r="2.55" fill="#0000c8" stroke="#000" stroke-width="0.8"/>
<circle cx="623.83" cy="687.80" r="2.55" fill="#0000c8" stroke="#000" stroke-width="0.8"/>
<circle cx="643.10" cy="684.47" r="2.55" fill="#0000c8" stroke="#000" stroke-width="0.8"/>
<text transform="translate(562.90 708.00)" font-size="11.2" text-anchor="middle" fill="#000">CM</text>
<text transform="translate(587.20 704.90) rotate(-45)" font-size="10.8" text-anchor="end" fill="#000">NT</text>
<text transform="translate(601.30 704.90) rotate(-45)" font-size="10.8" text-anchor="end" fill="#000">NCT</text>
<text transform="translate(616.70 704.90) rotate(-45)" font-size="10.8" text-anchor="end" fill="#000">JPH</text>
<text transform="translate(632.80 704.90) rotate(-45)" font-size="10.8" text-anchor="end" fill="#000">N/J</text>
<text transform="translate(647.40 704.90) rotate(-45)" font-size="10.8" text-anchor="end" fill="#000">Dasa</text>
<line x1="575.50" y1="732.10" x2="650.00" y2="732.10" stroke="#000" stroke-width="0.9" stroke-linecap="butt"/>
<text transform="translate(611.75 742.10) scale(0.93 1)" font-size="10.4" text-anchor="middle" fill="#000">low AA</text>
<text transform="translate(521.50 620.20) rotate(-90)" font-size="11.05" text-anchor="middle" fill="#000">Relative cell viability</text>
<text transform="translate(605.80 534.10)" font-size="12.1" text-anchor="middle" fill="#000">PDO #15</text>
<text transform="translate(605.80 548.70)" font-size="12.1" text-anchor="middle" fill="#000">(p53mut)</text>
<text transform="translate(597.73 585.04) rotate(-90)" font-size="6.3" text-anchor="end" fill="#3a3a3a">p&lt;0.001</text>
<text transform="translate(612.62 584.69) rotate(-90)" font-size="6.3" text-anchor="end" fill="#3a3a3a">p=0.0008</text>
<text transform="translate(626.99 584.69) rotate(-90)" font-size="6.3" text-anchor="end" fill="#3a3a3a">p=0.0004</text>
<text transform="translate(642.40 585.04) rotate(-90)" font-size="6.3" text-anchor="end" fill="#3a3a3a">p=0.02</text>
<polyline points="612.80,578.03 612.80,572.42 625.23,572.42 625.23,578.03" fill="none" stroke="#111" stroke-width="0.8"/>
<text transform="translate(618.23 569.27)" font-size="6.0" text-anchor="middle" fill="#3a3a3a">p=0.03</text>
</g>
</g>
<g id="panel-d">
<text transform="translate(0.10 776.30)" font-size="12" text-anchor="start" fill="#000" font-weight="bold">d</text>
<text transform="translate(102.00 785.60)" font-size="10.9" text-anchor="middle" fill="#000">CM</text>
<line x1="172.70" y1="785.80" x2="454.40" y2="785.80" stroke="#000" stroke-width="0.9" stroke-linecap="butt"/>
<text transform="translate(310.50 782.40) scale(0.93 1)" font-size="10.4" text-anchor="middle" fill="#000">low AA</text>
<text transform="translate(210.00 798.00)" font-size="10.6" text-anchor="middle" fill="#000">NT</text>
<text transform="translate(313.00 798.00)" font-size="10.6" text-anchor="middle" fill="#000">N/J</text>
<text transform="translate(418.00 798.00)" font-size="10.6" text-anchor="middle" fill="#000">Dasa</text>
<text transform="translate(26.40 838.00)" font-size="12.3" text-anchor="middle" fill="#000">PDO #7</text>
<text transform="translate(26.80 852.50)" font-size="12.3" text-anchor="middle" fill="#000">(p53wt)</text>
<text transform="translate(28.70 909.00)" font-size="12.3" text-anchor="middle" fill="#000">PDO #13</text>
<text transform="translate(28.90 923.50)" font-size="12.3" text-anchor="middle" fill="#000">(p53mut)</text>
<defs>

<filter id="soft" x="-20%" y="-20%" width="140%" height="140%"><feGaussianBlur stdDeviation="0.7"/></filter>
</defs>
<defs><radialGradient id="mg00" cx="0.55" cy="0.45" r="0.75"><stop offset="0" stop-color="#b7b1a1"/><stop offset="0.3" stop-color="#b7b1a1"/><stop offset="1" stop-color="#79735f"/></radialGradient><clipPath id="cl00"><rect x="58.50" y="803.80" width="88.0" height="66.3"/></clipPath></defs>
<defs><filter id="gr00" x="0" y="0" width="100%" height="100%" color-interpolation-filters="sRGB"><feTurbulence type="fractalNoise" baseFrequency="0.6" numOctaves="2" seed="11" result="n1"/><feColorMatrix in="n1" type="matrix" values="0.22 0.22 0.22 0 0.67  0.22 0.22 0.22 0 0.67  0.23 0.23 0.23 0 0.655  0 0 0 0 1" result="g1"/><feTurbulence type="fractalNoise" baseFrequency="0.08" numOctaves="2" seed="16" result="n2"/><feColorMatrix in="n2" type="matrix" values="0.28 0.28 0.28 0 0.580  0.29000000000000004 0.29000000000000004 0.29000000000000004 0 0.565  0.32 0.32 0.32 0 0.520  0 0 0 0 1" result="g2"/><feBlend in="SourceGraphic" in2="g1" mode="multiply" result="b1"/><feBlend in="b1" in2="g2" mode="multiply"/></filter></defs>
<g clip-path="url(#cl00)"><g filter="url(#gr00)">
<rect x="56.50" y="801.80" width="92.0" height="70.3" fill="url(#mg00)"/>
<g filter="url(#soft)">
<circle cx="98.5" cy="840.7" r="2.01" fill="#a8a08e" stroke="#615b48" stroke-width="0.6" opacity="0.64"/>
<circle cx="109.8" cy="817.3" r="1.51" fill="#a8a08e" stroke="#615b48" stroke-width="0.6" opacity="0.70"/>
<circle cx="68.4" cy="824.7" r="1.01" fill="#a8a08e" stroke="#615b48" stroke-width="0.6" opacity="0.77"/>
<circle cx="64.0" cy="867.0" r="2.06" fill="#a8a08e" stroke="#615b48" stroke-width="0.6" opacity="0.71"/>
<circle cx="73.7" cy="806.7" r="1.07" fill="#ddd7c8" stroke="#625c49" stroke-width="0.5" opacity="0.47"/>
<circle cx="80.8" cy="807.7" r="1.46" fill="#a8a08e" stroke="#615b48" stroke-width="0.6" opacity="0.63"/>
<circle cx="104.1" cy="845.7" r="1.50" fill="#a8a08e" stroke="#615b48" stroke-width="0.6" opacity="0.71"/>
<circle cx="83.9" cy="868.0" r="2.09" fill="#a8a08e" stroke="#615b48" stroke-width="0.6" opacity="0.79"/>
<circle cx="87.0" cy="820.1" r="1.25" fill="#a8a08e" stroke="#615b48" stroke-width="0.6" opacity="0.48"/>
<circle cx="94.1" cy="858.5" r="1.36" fill="#a8a08e" stroke="#615b48" stroke-width="0.6" opacity="0.83"/>
<circle cx="60.5" cy="818.9" r="1.99" fill="#a8a08e" stroke="#615b48" stroke-width="0.6" opacity="0.64"/>
<circle cx="93.9" cy="810.4" r="1.66" fill="#a8a08e" stroke="#615b48" stroke-width="0.6" opacity="0.76"/>
<circle cx="67.8" cy="826.5" r="1.44" fill="#ddd7c8" stroke="#625c49" stroke-width="0.5" opacity="0.75"/>
<circle cx="81.2" cy="812.1" r="0.68" fill="#ddd7c8" stroke="#625c49" stroke-width="0.5" opacity="0.77"/>
<circle cx="107.5" cy="833.7" r="0.79" fill="#ddd7c8" stroke="#625c49" stroke-width="0.5" opacity="0.74"/>
<circle cx="114.6" cy="813.1" r="1.40" fill="#a8a08e" stroke="#615b48" stroke-width="0.6" opacity="0.54"/>
<circle cx="142.1" cy="855.9" r="0.89" fill="#ddd7c8" stroke="#625c49" stroke-width="0.5" opacity="0.80"/>
<circle cx="93.6" cy="859.0" r="1.67" fill="#a8a08e" stroke="#615b48" stroke-width="0.6" opacity="0.49"/>
<circle cx="78.4" cy="821.9" r="1.83" fill="#a8a08e" stroke="#615b48" stroke-width="0.6" opacity="0.58"/>
<circle cx="66.7" cy="811.4" r="1.60" fill="#a8a08e" stroke="#615b48" stroke-width="0.6" opacity="0.55"/>
<circle cx="91.7" cy="834.0" r="2.05" fill="#a8a08e" stroke="#615b48" stroke-width="0.6" opacity="0.64"/>
<circle cx="133.3" cy="817.2" r="1.08" fill="#a8a08e" stroke="#615b48" stroke-width="0.6" opacity="0.81"/>
<circle cx="81.5" cy="817.6" r="1.25" fill="#ddd7c8" stroke="#625c49" stroke-width="0.5" opacity="0.83"/>
<circle cx="140.3" cy="860.8" r="1.14" fill="#ddd7c8" stroke="#625c49" stroke-width="0.5" opacity="0.62"/>
<circle cx="63.8" cy="865.8" r="1.19" fill="#a8a08e" stroke="#615b48" stroke-width="0.6" opacity="0.73"/>
<circle cx="129.7" cy="843.0" r="1.25" fill="#a8a08e" stroke="#615b48" stroke-width="0.6" opacity="0.52"/>
<circle cx="66.3" cy="820.0" r="1.57" fill="#a8a08e" stroke="#615b48" stroke-width="0.6" opacity="0.79"/>
<circle cx="84.0" cy="863.0" r="1.14" fill="#a8a08e" stroke="#615b48" stroke-width="0.6" opacity="0.46"/>
<circle cx="97.9" cy="809.6" r="1.11" fill="#a8a08e" stroke="#615b48" stroke-width="0.6" opacity="0.60"/>
<circle cx="71.6" cy="828.4" r="1.97" fill="#a8a08e" stroke="#615b48" stroke-width="0.6" opacity="0.84"/>
<circle cx="118.6" cy="842.2" r="0.75" fill="#ddd7c8" stroke="#625c49" stroke-width="0.5" opacity="0.46"/>
<circle cx="137.0" cy="849.5" r="2.06" fill="#a8a08e" stroke="#615b48" stroke-width="0.6" opacity="0.46"/>
<circle cx="101.0" cy="851.3" r="0.90" fill="#ddd7c8" stroke="#625c49" stroke-width="0.5" opacity="0.85"/>
<circle cx="106.4" cy="851.7" r="1.98" fill="#a8a08e" stroke="#615b48" stroke-width="0.6" opacity="0.74"/>
<circle cx="127.1" cy="862.8" r="1.32" fill="#a8a08e" stroke="#615b48" stroke-width="0.6" opacity="0.72"/>
<circle cx="133.7" cy="831.8" r="1.85" fill="#a8a08e" stroke="#615b48" stroke-width="0.6" opacity="0.80"/>
<circle cx="113.0" cy="829.6" r="1.12" fill="#ddd7c8" stroke="#625c49" stroke-width="0.5" opacity="0.69"/>
<circle cx="114.2" cy="867.7" r="1.96" fill="#a8a08e" stroke="#615b48" stroke-width="0.6" opacity="0.74"/>
<circle cx="122.2" cy="842.0" r="1.00" fill="#ddd7c8" stroke="#625c49" stroke-width="0.5" opacity="0.79"/>
<circle cx="123.5" cy="807.7" r="1.14" fill="#ddd7c8" stroke="#625c49" stroke-width="0.5" opacity="0.64"/>
<circle cx="119.2" cy="836.8" r="1.64" fill="#a8a08e" stroke="#615b48" stroke-width="0.6" opacity="0.82"/>
<circle cx="61.4" cy="824.6" r="1.20" fill="#ddd7c8" stroke="#625c49" stroke-width="0.5" opacity="0.53"/>
<circle cx="136.6" cy="846.9" r="1.43" fill="#a8a08e" stroke="#615b48" stroke-width="0.6" opacity="0.81"/>
<circle cx="116.4" cy="818.2" r="1.42" fill="#a8a08e" stroke="#615b48" stroke-width="0.6" opacity="0.77"/>
<circle cx="134.4" cy="829.7" r="1.12" fill="#ddd7c8" stroke="#625c49" stroke-width="0.5" opacity="0.58"/>
<circle cx="102.2" cy="858.0" r="1.92" fill="#a8a08e" stroke="#615b48" stroke-width="0.6" opacity="0.73"/>
<circle cx="83.8" cy="816.3" r="1.01" fill="#ddd7c8" stroke="#625c49" stroke-width="0.5" opacity="0.56"/>
<circle cx="95.3" cy="844.8" r="1.49" fill="#a8a08e" stroke="#615b48" stroke-width="0.6" opacity="0.58"/>
<circle cx="144.0" cy="833.9" r="0.33" fill="#675b43" opacity="0.16"/>
<circle cx="134.6" cy="807.5" r="0.58" fill="#675b43" opacity="0.29"/>
<circle cx="86.1" cy="855.7" r="0.31" fill="#675b43" opacity="0.18"/>
<circle cx="98.6" cy="806.4" r="0.63" fill="#675b43" opacity="0.21"/>
<circle cx="71.6" cy="807.8" r="0.55" fill="#675b43" opacity="0.26"/>
<circle cx="113.7" cy="846.9" r="0.62" fill="#675b43" opacity="0.39"/>
<circle cx="118.4" cy="817.6" r="0.49" fill="#675b43" opacity="0.19"/>
<circle cx="60.4" cy="835.2" r="0.59" fill="#675b43" opacity="0.19"/>
<circle cx="82.9" cy="827.0" r="0.58" fill="#675b43" opacity="0.28"/>
<circle cx="112.3" cy="853.4" r="0.46" fill="#675b43" opacity="0.35"/>
<circle cx="137.4" cy="810.4" r="0.67" fill="#675b43" opacity="0.33"/>
<circle cx="70.7" cy="834.0" r="0.55" fill="#675b43" opacity="0.38"/>
<circle cx="91.9" cy="841.4" r="0.65" fill="#675b43" opacity="0.35"/>
<circle cx="140.7" cy="834.6" r="0.56" fill="#675b43" opacity="0.20"/>
<circle cx="121.6" cy="857.4" r="0.56" fill="#675b43" opacity="0.33"/>
<circle cx="77.8" cy="862.7" r="0.69" fill="#675b43" opacity="0.39"/>
<circle cx="105.7" cy="855.6" r="0.43" fill="#675b43" opacity="0.38"/>
<circle cx="133.1" cy="827.2" r="0.33" fill="#675b43" opacity="0.26"/>
<circle cx="106.8" cy="854.2" r="0.49" fill="#675b43" opacity="0.16"/>
<circle cx="129.1" cy="808.9" r="0.62" fill="#675b43" opacity="0.19"/>
<circle cx="88.3" cy="855.5" r="0.36" fill="#675b43" opacity="0.19"/>
<circle cx="103.9" cy="851.3" r="0.64" fill="#675b43" opacity="0.32"/>
<circle cx="140.8" cy="836.5" r="0.68" fill="#675b43" opacity="0.17"/>
<circle cx="78.5" cy="838.7" r="0.42" fill="#675b43" opacity="0.33"/>
<circle cx="114.4" cy="838.4" r="0.64" fill="#675b43" opacity="0.29"/>
<circle cx="86.3" cy="829.3" r="0.64" fill="#675b43" opacity="0.38"/>
<circle cx="77.4" cy="859.5" r="0.69" fill="#675b43" opacity="0.28"/>
<circle cx="108.8" cy="817.7" r="0.51" fill="#675b43" opacity="0.28"/>
<circle cx="111.5" cy="806.6" r="0.69" fill="#675b43" opacity="0.28"/>
<circle cx="94.0" cy="856.3" r="0.53" fill="#675b43" opacity="0.27"/>
<circle cx="118.9" cy="809.0" r="0.52" fill="#675b43" opacity="0.25"/>
<circle cx="141.8" cy="864.2" r="0.41" fill="#675b43" opacity="0.27"/>
<circle cx="70.4" cy="832.7" r="0.63" fill="#675b43" opacity="0.38"/>
<circle cx="100.5" cy="825.2" r="0.38" fill="#675b43" opacity="0.30"/>
<circle cx="139.1" cy="813.1" r="0.61" fill="#675b43" opacity="0.16"/>
<circle cx="76.2" cy="819.4" r="0.57" fill="#675b43" opacity="0.23"/>
<circle cx="90.1" cy="844.7" r="0.34" fill="#675b43" opacity="0.33"/>
<circle cx="70.1" cy="837.6" r="0.40" fill="#675b43" opacity="0.20"/>
<circle cx="105.1" cy="832.9" r="0.45" fill="#675b43" opacity="0.25"/>
<circle cx="105.0" cy="815.1" r="0.38" fill="#675b43" opacity="0.31"/>
<circle cx="114.4" cy="838.9" r="0.64" fill="#675b43" opacity="0.30"/>
<circle cx="133.2" cy="819.8" r="0.60" fill="#675b43" opacity="0.35"/>
<circle cx="137.1" cy="825.1" r="0.43" fill="#675b43" opacity="0.38"/>
<circle cx="78.3" cy="869.0" r="0.66" fill="#675b43" opacity="0.18"/>
<circle cx="80.1" cy="851.5" r="0.40" fill="#675b43" opacity="0.17"/>
<circle cx="131.1" cy="831.9" r="0.62" fill="#675b43" opacity="0.18"/>
<circle cx="94.1" cy="848.9" r="0.31" fill="#675b43" opacity="0.20"/>
<circle cx="118.2" cy="863.4" r="0.69" fill="#675b43" opacity="0.18"/>
<ellipse cx="114.9" cy="840.1" rx="4.96" ry="4.38" fill="#93866f" stroke="#5e5742" stroke-width="0.95" opacity="0.75"/>
<ellipse cx="114.9" cy="840.1" rx="3.47" ry="3.07" fill="#857660" opacity="0.5"/>
<ellipse cx="76.9" cy="819.7" rx="2.48" ry="2.48" fill="#a19784" stroke="#5e5742" stroke-width="0.7" opacity="0.75"/>
<ellipse cx="94.7" cy="850.4" rx="2.19" ry="2.48" fill="#a19784" stroke="#5e5742" stroke-width="0.7" opacity="0.75"/>
<ellipse cx="102.9" cy="851.4" rx="2.04" ry="2.04" fill="#a19784" stroke="#5e5742" stroke-width="0.7" opacity="0.75"/>
<ellipse cx="106.8" cy="829.2" rx="2.19" ry="2.19" fill="#a19784" stroke="#5e5742" stroke-width="0.7" opacity="0.75"/>
<ellipse cx="84.2" cy="847.4" rx="1.90" ry="1.90" fill="#a19784" stroke="#5e5742" stroke-width="0.7" opacity="0.75"/>
<ellipse cx="112.2" cy="812.0" rx="2.04" ry="2.04" fill="#a19784" stroke="#5e5742" stroke-width="0.7" opacity="0.75"/>
<ellipse cx="130.9" cy="844.5" rx="1.90" ry="1.90" fill="#a19784" stroke="#5e5742" stroke-width="0.7" opacity="0.75"/>
<ellipse cx="77.2" cy="830.4" rx="1.75" ry="1.75" fill="#a19784" stroke="#5e5742" stroke-width="0.7" opacity="0.75"/>
<ellipse cx="103.2" cy="805.8" rx="1.90" ry="1.90" fill="#a19784" stroke="#5e5742" stroke-width="0.7" opacity="0.75"/>
<ellipse cx="126.5" cy="818.2" rx="1.02" ry="1.02" fill="#e3dfd2" stroke="#625c49" stroke-width="0.55" opacity="0.85"/>
<ellipse cx="136.8" cy="811.4" rx="1.02" ry="1.02" fill="#e3dfd2" stroke="#625c49" stroke-width="0.55" opacity="0.85"/>
<ellipse cx="85.4" cy="825.1" rx="0.73" ry="0.73" fill="#e3dfd2" stroke="#625c49" stroke-width="0.55" opacity="0.85"/>
<ellipse cx="97.3" cy="822.6" rx="0.73" ry="0.73" fill="#e3dfd2" stroke="#625c49" stroke-width="0.55" opacity="0.85"/>
<ellipse cx="113.4" cy="855.5" rx="0.73" ry="0.73" fill="#e3dfd2" stroke="#625c49" stroke-width="0.55" opacity="0.85"/>
</g>
</g></g>
<defs><radialGradient id="mg01" cx="0.5" cy="0.5" r="0.75"><stop offset="0" stop-color="#b9b3a3"/><stop offset="0.3" stop-color="#b9b3a3"/><stop offset="1" stop-color="#7d7763"/></radialGradient><clipPath id="cl01"><rect x="163.90" y="803.80" width="88.0" height="66.3"/></clipPath></defs>
<defs><filter id="gr01" x="0" y="0" width="100%" height="100%" color-interpolation-filters="sRGB"><feTurbulence type="fractalNoise" baseFrequency="0.6" numOctaves="2" seed="23" result="n1"/><feColorMatrix in="n1" type="matrix" values="0.22 0.22 0.22 0 0.67  0.22 0.22 0.22 0 0.67  0.23 0.23 0.23 0 0.655  0 0 0 0 1" result="g1"/><feTurbulence type="fractalNoise" baseFrequency="0.08" numOctaves="2" seed="28" result="n2"/><feColorMatrix in="n2" type="matrix" values="0.28 0.28 0.28 0 0.580  0.29000000000000004 0.29000000000000004 0.29000000000000004 0 0.565  0.32 0.32 0.32 0 0.520  0 0 0 0 1" result="g2"/><feBlend in="SourceGraphic" in2="g1" mode="multiply" result="b1"/><feBlend in="b1" in2="g2" mode="multiply"/></filter></defs>
<g clip-path="url(#cl01)"><g filter="url(#gr01)">
<rect x="161.90" y="801.80" width="92.0" height="70.3" fill="url(#mg01)"/>
<g filter="url(#soft)">
<circle cx="243.6" cy="864.9" r="1.97" fill="#a8a08e" stroke="#615b48" stroke-width="0.6" opacity="0.48"/>
<circle cx="201.5" cy="838.8" r="1.06" fill="#a8a08e" stroke="#615b48" stroke-width="0.6" opacity="0.53"/>
<circle cx="184.5" cy="834.1" r="0.93" fill="#a8a08e" stroke="#615b48" stroke-width="0.6" opacity="0.48"/>
<circle cx="201.3" cy="837.7" r="1.25" fill="#ddd7c8" stroke="#625c49" stroke-width="0.5" opacity="0.59"/>
<circle cx="231.7" cy="842.5" r="1.69" fill="#a8a08e" stroke="#615b48" stroke-width="0.6" opacity="0.70"/>
<circle cx="196.4" cy="853.1" r="1.34" fill="#a8a08e" stroke="#615b48" stroke-width="0.6" opacity="0.68"/>
<circle cx="192.3" cy="811.1" r="1.47" fill="#a8a08e" stroke="#615b48" stroke-width="0.6" opacity="0.74"/>
<circle cx="203.5" cy="845.8" r="1.12" fill="#a8a08e" stroke="#615b48" stroke-width="0.6" opacity="0.52"/>
<circle cx="234.4" cy="818.0" r="0.73" fill="#ddd7c8" stroke="#625c49" stroke-width="0.5" opacity="0.49"/>
<circle cx="189.0" cy="841.5" r="1.88" fill="#a8a08e" stroke="#615b48" stroke-width="0.6" opacity="0.58"/>
<circle cx="190.1" cy="824.8" r="1.83" fill="#a8a08e" stroke="#615b48" stroke-width="0.6" opacity="0.67"/>
<circle cx="174.9" cy="854.6" r="1.22" fill="#ddd7c8" stroke="#625c49" stroke-width="0.5" opacity="0.78"/>
<circle cx="211.7" cy="863.0" r="1.13" fill="#ddd7c8" stroke="#625c49" stroke-width="0.5" opacity="0.83"/>
<circle cx="247.8" cy="809.3" r="1.40" fill="#a8a08e" stroke="#615b48" stroke-width="0.6" opacity="0.46"/>
<circle cx="223.6" cy="866.5" r="1.87" fill="#a8a08e" stroke="#615b48" stroke-width="0.6" opacity="0.83"/>
<circle cx="248.9" cy="852.5" r="1.32" fill="#a8a08e" stroke="#615b48" stroke-width="0.6" opacity="0.84"/>
<circle cx="182.1" cy="810.5" r="1.46" fill="#a8a08e" stroke="#615b48" stroke-width="0.6" opacity="0.53"/>
<circle cx="245.7" cy="819.3" r="0.72" fill="#ddd7c8" stroke="#625c49" stroke-width="0.5" opacity="0.66"/>
<circle cx="211.6" cy="856.4" r="1.20" fill="#a8a08e" stroke="#615b48" stroke-width="0.6" opacity="0.62"/>
<circle cx="203.3" cy="827.2" r="1.97" fill="#a8a08e" stroke="#615b48" stroke-width="0.6" opacity="0.78"/>
<circle cx="223.7" cy="831.5" r="1.73" fill="#a8a08e" stroke="#615b48" stroke-width="0.6" opacity="0.78"/>
<circle cx="185.9" cy="824.2" r="1.39" fill="#a8a08e" stroke="#615b48" stroke-width="0.6" opacity="0.76"/>
<circle cx="212.1" cy="857.3" r="1.03" fill="#a8a08e" stroke="#615b48" stroke-width="0.6" opacity="0.70"/>
<circle cx="212.9" cy="857.8" r="0.84" fill="#ddd7c8" stroke="#625c49" stroke-width="0.5" opacity="0.83"/>
<circle cx="213.1" cy="839.6" r="1.18" fill="#a8a08e" stroke="#615b48" stroke-width="0.6" opacity="0.67"/>
<circle cx="203.7" cy="850.6" r="0.90" fill="#a8a08e" stroke="#615b48" stroke-width="0.6" opacity="0.60"/>
<circle cx="177.8" cy="859.8" r="0.80" fill="#ddd7c8" stroke="#625c49" stroke-width="0.5" opacity="0.72"/>
<circle cx="203.6" cy="832.1" r="1.00" fill="#a8a08e" stroke="#615b48" stroke-width="0.6" opacity="0.73"/>
<circle cx="223.8" cy="839.4" r="1.57" fill="#a8a08e" stroke="#615b48" stroke-width="0.6" opacity="0.66"/>
<circle cx="241.4" cy="811.2" r="1.95" fill="#a8a08e" stroke="#615b48" stroke-width="0.6" opacity="0.80"/>
<circle cx="231.2" cy="847.8" r="1.63" fill="#a8a08e" stroke="#615b48" stroke-width="0.6" opacity="0.57"/>
<circle cx="195.2" cy="824.6" r="2.05" fill="#a8a08e" stroke="#615b48" stroke-width="0.6" opacity="0.59"/>
<circle cx="201.1" cy="856.7" r="1.47" fill="#a8a08e" stroke="#615b48" stroke-width="0.6" opacity="0.67"/>
<circle cx="189.3" cy="811.4" r="1.16" fill="#a8a08e" stroke="#615b48" stroke-width="0.6" opacity="0.56"/>
<circle cx="208.1" cy="812.7" r="1.46" fill="#a8a08e" stroke="#615b48" stroke-width="0.6" opacity="0.50"/>
<circle cx="203.0" cy="859.3" r="0.85" fill="#ddd7c8" stroke="#625c49" stroke-width="0.5" opacity="0.79"/>
<circle cx="248.4" cy="845.3" r="0.95" fill="#a8a08e" stroke="#615b48" stroke-width="0.6" opacity="0.77"/>
<circle cx="196.3" cy="814.9" r="1.90" fill="#a8a08e" stroke="#615b48" stroke-width="0.6" opacity="0.49"/>
<circle cx="199.1" cy="848.1" r="1.25" fill="#a8a08e" stroke="#615b48" stroke-width="0.6" opacity="0.48"/>
<circle cx="220.9" cy="816.4" r="1.45" fill="#ddd7c8" stroke="#625c49" stroke-width="0.5" opacity="0.81"/>
<circle cx="167.5" cy="843.9" r="1.07" fill="#a8a08e" stroke="#615b48" stroke-width="0.6" opacity="0.74"/>
<circle cx="225.5" cy="841.3" r="1.82" fill="#a8a08e" stroke="#615b48" stroke-width="0.6" opacity="0.78"/>
<circle cx="215.6" cy="826.2" r="1.06" fill="#a8a08e" stroke="#615b48" stroke-width="0.6" opacity="0.49"/>
<circle cx="183.2" cy="832.4" r="1.28" fill="#a8a08e" stroke="#615b48" stroke-width="0.6" opacity="0.70"/>
<circle cx="238.1" cy="833.0" r="1.33" fill="#a8a08e" stroke="#615b48" stroke-width="0.6" opacity="0.71"/>
<circle cx="243.6" cy="825.2" r="1.96" fill="#a8a08e" stroke="#615b48" stroke-width="0.6" opacity="0.84"/>
<circle cx="176.8" cy="829.5" r="1.28" fill="#ddd7c8" stroke="#625c49" stroke-width="0.5" opacity="0.78"/>
<circle cx="199.1" cy="850.9" r="1.27" fill="#ddd7c8" stroke="#625c49" stroke-width="0.5" opacity="0.66"/>
<circle cx="200.1" cy="809.4" r="1.28" fill="#a8a08e" stroke="#615b48" stroke-width="0.6" opacity="0.62"/>
<circle cx="215.4" cy="831.6" r="1.20" fill="#a8a08e" stroke="#615b48" stroke-width="0.6" opacity="0.58"/>
<circle cx="203.2" cy="815.9" r="0.63" fill="#675b43" opacity="0.29"/>
<circle cx="248.1" cy="839.3" r="0.55" fill="#675b43" opacity="0.26"/>
<circle cx="217.2" cy="863.9" r="0.69" fill="#675b43" opacity="0.32"/>
<circle cx="201.9" cy="808.8" r="0.64" fill="#675b43" opacity="0.25"/>
<circle cx="197.8" cy="808.5" r="0.31" fill="#675b43" opacity="0.25"/>
<circle cx="248.7" cy="852.4" r="0.58" fill="#675b43" opacity="0.32"/>
<circle cx="188.4" cy="815.6" r="0.54" fill="#675b43" opacity="0.17"/>
<circle cx="215.5" cy="837.9" r="0.52" fill="#675b43" opacity="0.18"/>
<circle cx="170.7" cy="835.2" r="0.36" fill="#675b43" opacity="0.31"/>
<circle cx="191.5" cy="844.7" r="0.60" fill="#675b43" opacity="0.30"/>
<circle cx="210.6" cy="817.5" r="0.44" fill="#675b43" opacity="0.39"/>
<circle cx="188.0" cy="823.1" r="0.50" fill="#675b43" opacity="0.29"/>
<circle cx="232.9" cy="823.8" r="0.69" fill="#675b43" opacity="0.16"/>
<circle cx="232.9" cy="841.4" r="0.66" fill="#675b43" opacity="0.19"/>
<circle cx="224.2" cy="865.7" r="0.57" fill="#675b43" opacity="0.18"/>
<circle cx="244.1" cy="867.1" r="0.34" fill="#675b43" opacity="0.36"/>
<circle cx="171.7" cy="810.0" r="0.62" fill="#675b43" opacity="0.33"/>
<circle cx="247.2" cy="845.4" r="0.50" fill="#675b43" opacity="0.22"/>
<circle cx="214.2" cy="868.6" r="0.56" fill="#675b43" opacity="0.37"/>
<circle cx="181.9" cy="852.1" r="0.59" fill="#675b43" opacity="0.17"/>
<circle cx="235.4" cy="816.1" r="0.39" fill="#675b43" opacity="0.17"/>
<circle cx="221.9" cy="813.9" r="0.69" fill="#675b43" opacity="0.15"/>
<circle cx="234.5" cy="853.6" r="0.53" fill="#675b43" opacity="0.29"/>
<circle cx="233.5" cy="845.7" r="0.36" fill="#675b43" opacity="0.35"/>
<circle cx="195.3" cy="842.3" r="0.50" fill="#675b43" opacity="0.38"/>
<circle cx="200.5" cy="859.7" r="0.33" fill="#675b43" opacity="0.23"/>
<circle cx="222.6" cy="844.1" r="0.63" fill="#675b43" opacity="0.20"/>
<circle cx="234.1" cy="856.0" r="0.36" fill="#675b43" opacity="0.18"/>
<circle cx="215.1" cy="867.5" r="0.55" fill="#675b43" opacity="0.26"/>
<circle cx="208.5" cy="856.9" r="0.51" fill="#675b43" opacity="0.28"/>
<circle cx="215.9" cy="864.7" r="0.62" fill="#675b43" opacity="0.36"/>
<circle cx="187.8" cy="843.4" r="0.63" fill="#675b43" opacity="0.33"/>
<circle cx="246.8" cy="863.6" r="0.35" fill="#675b43" opacity="0.28"/>
<circle cx="195.7" cy="818.0" r="0.50" fill="#675b43" opacity="0.40"/>
<circle cx="231.0" cy="811.2" r="0.40" fill="#675b43" opacity="0.24"/>
<circle cx="241.0" cy="834.3" r="0.36" fill="#675b43" opacity="0.29"/>
<circle cx="186.2" cy="807.3" r="0.54" fill="#675b43" opacity="0.40"/>
<circle cx="231.6" cy="852.1" r="0.36" fill="#675b43" opacity="0.29"/>
<circle cx="219.7" cy="853.6" r="0.48" fill="#675b43" opacity="0.16"/>
<circle cx="244.7" cy="821.9" r="0.60" fill="#675b43" opacity="0.27"/>
<circle cx="231.9" cy="826.5" r="0.34" fill="#675b43" opacity="0.26"/>
<circle cx="206.2" cy="855.8" r="0.46" fill="#675b43" opacity="0.32"/>
<circle cx="197.3" cy="851.9" r="0.37" fill="#675b43" opacity="0.37"/>
<circle cx="246.1" cy="806.3" r="0.64" fill="#675b43" opacity="0.34"/>
<circle cx="224.5" cy="811.6" r="0.59" fill="#675b43" opacity="0.34"/>
<circle cx="218.8" cy="866.8" r="0.68" fill="#675b43" opacity="0.31"/>
<circle cx="244.5" cy="814.0" r="0.42" fill="#675b43" opacity="0.28"/>
<circle cx="209.9" cy="866.1" r="0.55" fill="#675b43" opacity="0.31"/>
<circle cx="218.3" cy="865.6" r="0.46" fill="#675b43" opacity="0.33"/>
<circle cx="216.5" cy="830.7" r="0.44" fill="#675b43" opacity="0.19"/>
<ellipse cx="205.4" cy="837.1" rx="2.34" ry="2.04" fill="#a19784" stroke="#5e5742" stroke-width="0.7" opacity="0.75"/>
<ellipse cx="209.7" cy="835.0" rx="1.75" ry="1.75" fill="#a19784" stroke="#5e5742" stroke-width="0.7" opacity="0.75"/>
<ellipse cx="229.6" cy="836.5" rx="1.75" ry="1.75" fill="#a19784" stroke="#5e5742" stroke-width="0.7" opacity="0.75"/>
<ellipse cx="183.5" cy="838.8" rx="1.46" ry="1.46" fill="#a19784" stroke="#5e5742" stroke-width="0.7" opacity="0.75"/>
<ellipse cx="218.5" cy="829.2" rx="1.46" ry="1.46" fill="#a19784" stroke="#5e5742" stroke-width="0.7" opacity="0.75"/>
<ellipse cx="225.8" cy="819.9" rx="1.46" ry="1.46" fill="#a19784" stroke="#5e5742" stroke-width="0.7" opacity="0.75"/>
<ellipse cx="195.1" cy="813.1" rx="1.46" ry="1.46" fill="#a19784" stroke="#5e5742" stroke-width="0.7" opacity="0.75"/>
<ellipse cx="246.2" cy="855.5" rx="1.75" ry="1.75" fill="#a19784" stroke="#5e5742" stroke-width="0.7" opacity="0.75"/>
<ellipse cx="241.9" cy="846.7" rx="1.46" ry="1.46" fill="#a19784" stroke="#5e5742" stroke-width="0.7" opacity="0.75"/>
<ellipse cx="189.9" cy="820.4" rx="0.88" ry="0.88" fill="#e3dfd2" stroke="#625c49" stroke-width="0.55" opacity="0.85"/>
<ellipse cx="209.7" cy="808.8" rx="0.88" ry="0.88" fill="#e3dfd2" stroke="#625c49" stroke-width="0.55" opacity="0.85"/>
<ellipse cx="176.2" cy="813.1" rx="0.88" ry="0.88" fill="#e3dfd2" stroke="#625c49" stroke-width="0.55" opacity="0.85"/>
<ellipse cx="214.1" cy="852.6" rx="0.88" ry="0.88" fill="#e3dfd2" stroke="#625c49" stroke-width="0.55" opacity="0.85"/>
</g>
</g></g>
<defs><radialGradient id="mg02" cx="0.6" cy="0.5" r="0.75"><stop offset="0" stop-color="#bcb6a6"/><stop offset="0.3" stop-color="#bcb6a6"/><stop offset="1" stop-color="#7a7460"/></radialGradient><clipPath id="cl02"><rect x="269.20" y="803.80" width="88.0" height="66.3"/></clipPath></defs>
<defs><filter id="gr02" x="0" y="0" width="100%" height="100%" color-interpolation-filters="sRGB"><feTurbulence type="fractalNoise" baseFrequency="0.6" numOctaves="2" seed="31" result="n1"/><feColorMatrix in="n1" type="matrix" values="0.22 0.22 0.22 0 0.67  0.22 0.22 0.22 0 0.67  0.23 0.23 0.23 0 0.655  0 0 0 0 1" result="g1"/><feTurbulence type="fractalNoise" baseFrequency="0.08" numOctaves="2" seed="36" result="n2"/><feColorMatrix in="n2" type="matrix" values="0.28 0.28 0.28 0 0.580  0.29000000000000004 0.29000000000000004 0.29000000000000004 0 0.565  0.32 0.32 0.32 0 0.520  0 0 0 0 1" result="g2"/><feBlend in="SourceGraphic" in2="g1" mode="multiply" result="b1"/><feBlend in="b1" in2="g2" mode="multiply"/></filter></defs>
<g clip-path="url(#cl02)"><g filter="url(#gr02)">
<rect x="267.20" y="801.80" width="92.0" height="70.3" fill="url(#mg02)"/>
<g filter="url(#soft)">
<circle cx="272.2" cy="812.8" r="0.96" fill="#ddd7c8" stroke="#625c49" stroke-width="0.5" opacity="0.72"/>
<circle cx="280.6" cy="820.2" r="1.81" fill="#a8a08e" stroke="#615b48" stroke-width="0.6" opacity="0.51"/>
<circle cx="326.8" cy="814.3" r="1.54" fill="#a8a08e" stroke="#615b48" stroke-width="0.6" opacity="0.63"/>
<circle cx="354.9" cy="811.6" r="0.92" fill="#a8a08e" stroke="#615b48" stroke-width="0.6" opacity="0.83"/>
<circle cx="287.9" cy="826.4" r="0.94" fill="#ddd7c8" stroke="#625c49" stroke-width="0.5" opacity="0.83"/>
<circle cx="289.4" cy="842.2" r="1.56" fill="#a8a08e" stroke="#615b48" stroke-width="0.6" opacity="0.83"/>
<circle cx="301.1" cy="818.5" r="1.33" fill="#ddd7c8" stroke="#625c49" stroke-width="0.5" opacity="0.85"/>
<circle cx="332.9" cy="859.9" r="1.68" fill="#a8a08e" stroke="#615b48" stroke-width="0.6" opacity="0.54"/>
<circle cx="332.5" cy="817.9" r="1.17" fill="#ddd7c8" stroke="#625c49" stroke-width="0.5" opacity="0.54"/>
<circle cx="299.4" cy="826.6" r="1.38" fill="#a8a08e" stroke="#615b48" stroke-width="0.6" opacity="0.71"/>
<circle cx="352.0" cy="866.6" r="2.09" fill="#a8a08e" stroke="#615b48" stroke-width="0.6" opacity="0.77"/>
<circle cx="286.0" cy="844.7" r="1.09" fill="#ddd7c8" stroke="#625c49" stroke-width="0.5" opacity="0.72"/>
<circle cx="287.4" cy="863.2" r="1.14" fill="#ddd7c8" stroke="#625c49" stroke-width="0.5" opacity="0.73"/>
<circle cx="304.7" cy="862.5" r="1.18" fill="#ddd7c8" stroke="#625c49" stroke-width="0.5" opacity="0.85"/>
<circle cx="309.4" cy="855.7" r="1.43" fill="#a8a08e" stroke="#615b48" stroke-width="0.6" opacity="0.77"/>
<circle cx="281.1" cy="812.0" r="1.46" fill="#ddd7c8" stroke="#625c49" stroke-width="0.5" opacity="0.50"/>
<circle cx="299.4" cy="850.2" r="1.92" fill="#a8a08e" stroke="#615b48" stroke-width="0.6" opacity="0.64"/>
<circle cx="337.4" cy="823.1" r="1.35" fill="#a8a08e" stroke="#615b48" stroke-width="0.6" opacity="0.70"/>
<circle cx="274.4" cy="812.8" r="1.07" fill="#a8a08e" stroke="#615b48" stroke-width="0.6" opacity="0.74"/>
<circle cx="352.9" cy="853.6" r="1.21" fill="#a8a08e" stroke="#615b48" stroke-width="0.6" opacity="0.76"/>
<circle cx="300.5" cy="806.5" r="0.95" fill="#ddd7c8" stroke="#625c49" stroke-width="0.5" opacity="0.56"/>
<circle cx="275.0" cy="813.6" r="1.94" fill="#a8a08e" stroke="#615b48" stroke-width="0.6" opacity="0.47"/>
<circle cx="288.5" cy="817.8" r="1.32" fill="#ddd7c8" stroke="#625c49" stroke-width="0.5" opacity="0.57"/>
<circle cx="309.4" cy="849.1" r="1.53" fill="#a8a08e" stroke="#615b48" stroke-width="0.6" opacity="0.79"/>
<circle cx="315.2" cy="850.5" r="1.45" fill="#a8a08e" stroke="#615b48" stroke-width="0.6" opacity="0.74"/>
<circle cx="282.4" cy="813.5" r="1.84" fill="#a8a08e" stroke="#615b48" stroke-width="0.6" opacity="0.75"/>
<circle cx="329.2" cy="841.9" r="0.77" fill="#ddd7c8" stroke="#625c49" stroke-width="0.5" opacity="0.79"/>
<circle cx="306.9" cy="814.6" r="1.36" fill="#a8a08e" stroke="#615b48" stroke-width="0.6" opacity="0.57"/>
<circle cx="330.9" cy="839.5" r="1.19" fill="#a8a08e" stroke="#615b48" stroke-width="0.6" opacity="0.76"/>
<circle cx="340.7" cy="807.9" r="1.64" fill="#a8a08e" stroke="#615b48" stroke-width="0.6" opacity="0.81"/>
<circle cx="288.2" cy="856.5" r="1.34" fill="#a8a08e" stroke="#615b48" stroke-width="0.6" opacity="0.61"/>
<circle cx="303.5" cy="818.2" r="1.16" fill="#a8a08e" stroke="#615b48" stroke-width="0.6" opacity="0.59"/>
<circle cx="302.1" cy="853.8" r="0.98" fill="#a8a08e" stroke="#615b48" stroke-width="0.6" opacity="0.55"/>
<circle cx="311.5" cy="836.9" r="1.42" fill="#ddd7c8" stroke="#625c49" stroke-width="0.5" opacity="0.56"/>
<circle cx="274.0" cy="835.9" r="0.88" fill="#ddd7c8" stroke="#625c49" stroke-width="0.5" opacity="0.64"/>
<circle cx="271.2" cy="829.5" r="1.81" fill="#a8a08e" stroke="#615b48" stroke-width="0.6" opacity="0.57"/>
<circle cx="319.9" cy="830.9" r="1.83" fill="#a8a08e" stroke="#615b48" stroke-width="0.6" opacity="0.54"/>
<circle cx="342.3" cy="839.5" r="1.28" fill="#a8a08e" stroke="#615b48" stroke-width="0.6" opacity="0.49"/>
<circle cx="287.0" cy="829.1" r="1.55" fill="#a8a08e" stroke="#615b48" stroke-width="0.6" opacity="0.83"/>
<circle cx="314.8" cy="859.3" r="1.27" fill="#a8a08e" stroke="#615b48" stroke-width="0.6" opacity="0.61"/>
<circle cx="317.8" cy="819.6" r="0.97" fill="#ddd7c8" stroke="#625c49" stroke-width="0.5" opacity="0.78"/>
<circle cx="330.5" cy="808.8" r="2.05" fill="#a8a08e" stroke="#615b48" stroke-width="0.6" opacity="0.72"/>
<circle cx="353.8" cy="855.4" r="0.97" fill="#a8a08e" stroke="#615b48" stroke-width="0.6" opacity="0.55"/>
<circle cx="355.1" cy="814.6" r="0.67" fill="#ddd7c8" stroke="#625c49" stroke-width="0.5" opacity="0.58"/>
<circle cx="305.4" cy="839.4" r="0.48" fill="#675b43" opacity="0.19"/>
<circle cx="272.2" cy="856.4" r="0.48" fill="#675b43" opacity="0.27"/>
<circle cx="311.3" cy="848.9" r="0.66" fill="#675b43" opacity="0.36"/>
<circle cx="332.7" cy="826.6" r="0.37" fill="#675b43" opacity="0.17"/>
<circle cx="344.1" cy="808.5" r="0.53" fill="#675b43" opacity="0.38"/>
<circle cx="297.9" cy="829.8" r="0.47" fill="#675b43" opacity="0.39"/>
<circle cx="329.0" cy="858.7" r="0.32" fill="#675b43" opacity="0.33"/>
<circle cx="309.0" cy="830.6" r="0.63" fill="#675b43" opacity="0.33"/>
<circle cx="348.5" cy="852.3" r="0.66" fill="#675b43" opacity="0.26"/>
<circle cx="318.0" cy="855.3" r="0.48" fill="#675b43" opacity="0.18"/>
<circle cx="320.5" cy="860.8" r="0.65" fill="#675b43" opacity="0.18"/>
<circle cx="303.0" cy="819.5" r="0.44" fill="#675b43" opacity="0.39"/>
<circle cx="306.4" cy="824.9" r="0.41" fill="#675b43" opacity="0.26"/>
<circle cx="327.8" cy="826.8" r="0.37" fill="#675b43" opacity="0.21"/>
<circle cx="292.6" cy="863.1" r="0.37" fill="#675b43" opacity="0.34"/>
<circle cx="279.5" cy="855.3" r="0.41" fill="#675b43" opacity="0.34"/>
<circle cx="307.4" cy="809.8" r="0.34" fill="#675b43" opacity="0.35"/>
<circle cx="316.8" cy="836.0" r="0.44" fill="#675b43" opacity="0.32"/>
<circle cx="311.7" cy="808.8" r="0.54" fill="#675b43" opacity="0.23"/>
<circle cx="343.0" cy="840.1" r="0.61" fill="#675b43" opacity="0.18"/>
<circle cx="331.0" cy="844.1" r="0.64" fill="#675b43" opacity="0.37"/>
<circle cx="317.6" cy="842.9" r="0.61" fill="#675b43" opacity="0.22"/>
<circle cx="317.1" cy="855.4" r="0.54" fill="#675b43" opacity="0.29"/>
<circle cx="343.8" cy="867.5" r="0.40" fill="#675b43" opacity="0.17"/>
<circle cx="323.0" cy="814.3" r="0.69" fill="#675b43" opacity="0.27"/>
<circle cx="316.1" cy="857.4" r="0.65" fill="#675b43" opacity="0.19"/>
<circle cx="309.2" cy="816.4" r="0.48" fill="#675b43" opacity="0.18"/>
<circle cx="345.6" cy="827.7" r="0.46" fill="#675b43" opacity="0.37"/>
<circle cx="341.0" cy="826.4" r="0.50" fill="#675b43" opacity="0.32"/>
<circle cx="286.4" cy="813.6" r="0.64" fill="#675b43" opacity="0.19"/>
<circle cx="331.1" cy="852.3" r="0.54" fill="#675b43" opacity="0.24"/>
<circle cx="344.0" cy="855.4" r="0.33" fill="#675b43" opacity="0.37"/>
<circle cx="325.0" cy="823.4" r="0.37" fill="#675b43" opacity="0.17"/>
<circle cx="340.0" cy="859.3" r="0.44" fill="#675b43" opacity="0.19"/>
<circle cx="276.5" cy="831.4" r="0.42" fill="#675b43" opacity="0.16"/>
<circle cx="295.8" cy="857.6" r="0.33" fill="#675b43" opacity="0.25"/>
<circle cx="314.4" cy="815.2" r="0.31" fill="#675b43" opacity="0.17"/>
<circle cx="282.6" cy="867.5" r="0.64" fill="#675b43" opacity="0.33"/>
<circle cx="347.6" cy="825.7" r="0.40" fill="#675b43" opacity="0.37"/>
<circle cx="322.3" cy="864.2" r="0.44" fill="#675b43" opacity="0.25"/>
<circle cx="331.9" cy="861.5" r="0.37" fill="#675b43" opacity="0.22"/>
<circle cx="271.4" cy="840.8" r="0.67" fill="#675b43" opacity="0.29"/>
<circle cx="283.0" cy="849.2" r="0.56" fill="#675b43" opacity="0.18"/>
<circle cx="348.8" cy="847.2" r="0.50" fill="#675b43" opacity="0.24"/>
<ellipse cx="315.9" cy="817.7" rx="3.04" ry="3.04" fill="#a19784" stroke="#5e5742" stroke-width="0.7" opacity="0.75"/>
<ellipse cx="300.7" cy="850.3" rx="3.04" ry="2.66" fill="#a19784" stroke="#5e5742" stroke-width="0.7" opacity="0.75"/>
<ellipse cx="339.4" cy="811.2" rx="2.28" ry="2.28" fill="#a19784" stroke="#5e5742" stroke-width="0.7" opacity="0.75"/>
<ellipse cx="287.4" cy="831.3" rx="1.90" ry="1.90" fill="#a19784" stroke="#5e5742" stroke-width="0.7" opacity="0.75"/>
<ellipse cx="334.9" cy="859.4" rx="1.90" ry="1.90" fill="#a19784" stroke="#5e5742" stroke-width="0.7" opacity="0.75"/>
<ellipse cx="285.5" cy="851.1" rx="1.90" ry="1.90" fill="#a19784" stroke="#5e5742" stroke-width="0.7" opacity="0.75"/>
<ellipse cx="327.3" cy="805.5" rx="1.14" ry="1.14" fill="#e3dfd2" stroke="#625c49" stroke-width="0.55" opacity="0.85"/>
<ellipse cx="296.9" cy="816.9" rx="1.14" ry="1.14" fill="#e3dfd2" stroke="#625c49" stroke-width="0.55" opacity="0.85"/>
<ellipse cx="342.5" cy="835.9" rx="1.14" ry="1.14" fill="#e3dfd2" stroke="#625c49" stroke-width="0.55" opacity="0.85"/>
</g>
</g></g>
<defs><radialGradient id="mg03" cx="0.5" cy="0.5" r="0.75"><stop offset="0" stop-color="#c8c2b2"/><stop offset="0.3" stop-color="#c8c2b2"/><stop offset="1" stop-color="#8a8470"/></radialGradient><clipPath id="cl03"><rect x="374.70" y="803.80" width="88.0" height="66.3"/></clipPath></defs>
<defs><filter id="gr03" x="0" y="0" width="100%" height="100%" color-interpolation-filters="sRGB"><feTurbulence type="fractalNoise" baseFrequency="0.6" numOctaves="2" seed="41" result="n1"/><feColorMatrix in="n1" type="matrix" values="0.22 0.22 0.22 0 0.67  0.22 0.22 0.22 0 0.67  0.23 0.23 0.23 0 0.655  0 0 0 0 1" result="g1"/><feTurbulence type="fractalNoise" baseFrequency="0.08" numOctaves="2" seed="46" result="n2"/><feColorMatrix in="n2" type="matrix" values="0.28 0.28 0.28 0 0.580  0.29000000000000004 0.29000000000000004 0.29000000000000004 0 0.565  0.32 0.32 0.32 0 0.520  0 0 0 0 1" result="g2"/><feBlend in="SourceGraphic" in2="g1" mode="multiply" result="b1"/><feBlend in="b1" in2="g2" mode="multiply"/></filter></defs>
<g clip-path="url(#cl03)"><g filter="url(#gr03)">
<rect x="372.70" y="801.80" width="92.0" height="70.3" fill="url(#mg03)"/>
<g filter="url(#soft)">
<circle cx="408.7" cy="820.2" r="1.10" fill="#a8a08e" stroke="#615b48" stroke-width="0.6" opacity="0.82"/>
<circle cx="434.7" cy="840.3" r="1.36" fill="#a8a08e" stroke="#615b48" stroke-width="0.6" opacity="0.74"/>
<circle cx="442.3" cy="847.0" r="1.34" fill="#ddd7c8" stroke="#625c49" stroke-width="0.5" opacity="0.63"/>
<circle cx="389.3" cy="850.9" r="1.10" fill="#a8a08e" stroke="#615b48" stroke-width="0.6" opacity="0.71"/>
<circle cx="381.7" cy="854.7" r="0.94" fill="#a8a08e" stroke="#615b48" stroke-width="0.6" opacity="0.80"/>
<circle cx="394.8" cy="851.0" r="1.78" fill="#a8a08e" stroke="#615b48" stroke-width="0.6" opacity="0.50"/>
<circle cx="387.1" cy="862.7" r="1.21" fill="#ddd7c8" stroke="#625c49" stroke-width="0.5" opacity="0.84"/>
<circle cx="403.4" cy="844.4" r="1.63" fill="#a8a08e" stroke="#615b48" stroke-width="0.6" opacity="0.52"/>
<circle cx="447.8" cy="824.6" r="1.08" fill="#a8a08e" stroke="#615b48" stroke-width="0.6" opacity="0.72"/>
<circle cx="432.4" cy="836.5" r="0.96" fill="#ddd7c8" stroke="#625c49" stroke-width="0.5" opacity="0.46"/>
<circle cx="415.2" cy="851.2" r="1.41" fill="#a8a08e" stroke="#615b48" stroke-width="0.6" opacity="0.75"/>
<circle cx="450.6" cy="846.6" r="0.90" fill="#ddd7c8" stroke="#625c49" stroke-width="0.5" opacity="0.51"/>
<circle cx="380.0" cy="859.5" r="1.36" fill="#ddd7c8" stroke="#625c49" stroke-width="0.5" opacity="0.75"/>
<circle cx="432.2" cy="813.8" r="1.97" fill="#a8a08e" stroke="#615b48" stroke-width="0.6" opacity="0.71"/>
<circle cx="427.9" cy="831.9" r="1.34" fill="#ddd7c8" stroke="#625c49" stroke-width="0.5" opacity="0.83"/>
<circle cx="413.4" cy="851.5" r="1.72" fill="#a8a08e" stroke="#615b48" stroke-width="0.6" opacity="0.61"/>
<circle cx="458.0" cy="823.0" r="1.15" fill="#a8a08e" stroke="#615b48" stroke-width="0.6" opacity="0.72"/>
<circle cx="452.1" cy="826.1" r="2.01" fill="#a8a08e" stroke="#615b48" stroke-width="0.6" opacity="0.60"/>
<circle cx="439.8" cy="851.4" r="0.81" fill="#ddd7c8" stroke="#625c49" stroke-width="0.5" opacity="0.52"/>
<circle cx="391.9" cy="847.3" r="0.98" fill="#a8a08e" stroke="#615b48" stroke-width="0.6" opacity="0.54"/>
<circle cx="389.7" cy="826.3" r="0.82" fill="#ddd7c8" stroke="#625c49" stroke-width="0.5" opacity="0.72"/>
<circle cx="460.5" cy="843.1" r="1.76" fill="#a8a08e" stroke="#615b48" stroke-width="0.6" opacity="0.67"/>
<circle cx="458.2" cy="861.5" r="1.89" fill="#a8a08e" stroke="#615b48" stroke-width="0.6" opacity="0.46"/>
<circle cx="455.8" cy="845.6" r="1.06" fill="#ddd7c8" stroke="#625c49" stroke-width="0.5" opacity="0.71"/>
<circle cx="437.8" cy="854.6" r="0.99" fill="#a8a08e" stroke="#615b48" stroke-width="0.6" opacity="0.65"/>
<circle cx="406.3" cy="848.3" r="2.01" fill="#a8a08e" stroke="#615b48" stroke-width="0.6" opacity="0.81"/>
<circle cx="389.4" cy="859.0" r="1.63" fill="#a8a08e" stroke="#615b48" stroke-width="0.6" opacity="0.78"/>
<circle cx="400.2" cy="842.4" r="1.26" fill="#a8a08e" stroke="#615b48" stroke-width="0.6" opacity="0.77"/>
<circle cx="396.8" cy="837.0" r="1.13" fill="#ddd7c8" stroke="#625c49" stroke-width="0.5" opacity="0.54"/>
<circle cx="416.5" cy="810.3" r="1.49" fill="#a8a08e" stroke="#615b48" stroke-width="0.6" opacity="0.83"/>
<circle cx="381.3" cy="857.2" r="1.23" fill="#ddd7c8" stroke="#625c49" stroke-width="0.5" opacity="0.73"/>
<circle cx="440.5" cy="818.0" r="1.86" fill="#a8a08e" stroke="#615b48" stroke-width="0.6" opacity="0.58"/>
<circle cx="391.2" cy="859.9" r="1.17" fill="#a8a08e" stroke="#615b48" stroke-width="0.6" opacity="0.80"/>
<circle cx="389.2" cy="846.6" r="1.54" fill="#a8a08e" stroke="#615b48" stroke-width="0.6" opacity="0.46"/>
<circle cx="399.5" cy="807.3" r="1.82" fill="#a8a08e" stroke="#615b48" stroke-width="0.6" opacity="0.74"/>
<circle cx="392.3" cy="838.6" r="1.60" fill="#a8a08e" stroke="#615b48" stroke-width="0.6" opacity="0.73"/>
<circle cx="424.4" cy="850.7" r="1.13" fill="#a8a08e" stroke="#615b48" stroke-width="0.6" opacity="0.52"/>
<circle cx="440.0" cy="855.8" r="1.92" fill="#a8a08e" stroke="#615b48" stroke-width="0.6" opacity="0.63"/>
<circle cx="385.6" cy="830.0" r="0.98" fill="#a8a08e" stroke="#615b48" stroke-width="0.6" opacity="0.78"/>
<circle cx="433.0" cy="852.7" r="0.94" fill="#ddd7c8" stroke="#625c49" stroke-width="0.5" opacity="0.77"/>
<circle cx="407.6" cy="827.4" r="0.65" fill="#675b43" opacity="0.19"/>
<circle cx="389.4" cy="810.5" r="0.64" fill="#675b43" opacity="0.23"/>
<circle cx="453.4" cy="824.9" r="0.63" fill="#675b43" opacity="0.20"/>
<circle cx="453.3" cy="867.4" r="0.65" fill="#675b43" opacity="0.32"/>
<circle cx="452.8" cy="863.6" r="0.69" fill="#675b43" opacity="0.22"/>
<circle cx="448.8" cy="854.9" r="0.44" fill="#675b43" opacity="0.19"/>
<circle cx="453.1" cy="835.2" r="0.51" fill="#675b43" opacity="0.37"/>
<circle cx="417.3" cy="821.0" r="0.57" fill="#675b43" opacity="0.28"/>
<circle cx="399.1" cy="849.3" r="0.66" fill="#675b43" opacity="0.21"/>
<circle cx="445.6" cy="853.3" r="0.51" fill="#675b43" opacity="0.20"/>
<circle cx="432.9" cy="822.9" r="0.40" fill="#675b43" opacity="0.36"/>
<circle cx="399.0" cy="810.7" r="0.64" fill="#675b43" opacity="0.40"/>
<circle cx="402.0" cy="830.8" r="0.52" fill="#675b43" opacity="0.34"/>
<circle cx="376.8" cy="846.5" r="0.39" fill="#675b43" opacity="0.38"/>
<circle cx="411.4" cy="865.5" r="0.48" fill="#675b43" opacity="0.31"/>
<circle cx="379.0" cy="817.8" r="0.42" fill="#675b43" opacity="0.24"/>
<circle cx="390.6" cy="831.9" r="0.34" fill="#675b43" opacity="0.29"/>
<circle cx="458.5" cy="859.9" r="0.55" fill="#675b43" opacity="0.40"/>
<circle cx="438.4" cy="845.6" r="0.48" fill="#675b43" opacity="0.17"/>
<circle cx="452.5" cy="862.4" r="0.62" fill="#675b43" opacity="0.32"/>
<circle cx="445.6" cy="866.4" r="0.69" fill="#675b43" opacity="0.34"/>
<circle cx="377.1" cy="865.7" r="0.53" fill="#675b43" opacity="0.26"/>
<circle cx="412.8" cy="822.2" r="0.31" fill="#675b43" opacity="0.30"/>
<circle cx="428.8" cy="810.4" r="0.67" fill="#675b43" opacity="0.38"/>
<circle cx="450.1" cy="839.4" r="0.45" fill="#675b43" opacity="0.27"/>
<circle cx="407.6" cy="866.2" r="0.67" fill="#675b43" opacity="0.37"/>
<circle cx="420.4" cy="837.7" r="0.57" fill="#675b43" opacity="0.22"/>
<circle cx="391.5" cy="868.1" r="0.41" fill="#675b43" opacity="0.22"/>
<circle cx="418.0" cy="810.5" r="0.51" fill="#675b43" opacity="0.19"/>
<circle cx="447.0" cy="810.1" r="0.62" fill="#675b43" opacity="0.22"/>
<circle cx="443.5" cy="856.3" r="0.68" fill="#675b43" opacity="0.19"/>
<circle cx="460.4" cy="814.3" r="0.44" fill="#675b43" opacity="0.15"/>
<circle cx="418.2" cy="810.1" r="0.52" fill="#675b43" opacity="0.38"/>
<circle cx="442.9" cy="846.4" r="0.34" fill="#675b43" opacity="0.40"/>
<circle cx="407.1" cy="865.9" r="0.36" fill="#675b43" opacity="0.22"/>
<circle cx="457.2" cy="852.8" r="0.37" fill="#675b43" opacity="0.26"/>
<circle cx="422.3" cy="821.0" r="0.39" fill="#675b43" opacity="0.17"/>
<circle cx="419.5" cy="831.5" r="0.44" fill="#675b43" opacity="0.27"/>
<circle cx="405.5" cy="829.6" r="0.61" fill="#675b43" opacity="0.19"/>
<circle cx="383.9" cy="833.5" r="0.42" fill="#675b43" opacity="0.27"/>
<ellipse cx="401.3" cy="863.2" rx="3.04" ry="3.04" fill="#a19784" stroke="#5e5742" stroke-width="0.7" opacity="0.75"/>
<ellipse cx="410.8" cy="838.6" rx="2.28" ry="2.28" fill="#a19784" stroke="#5e5742" stroke-width="0.7" opacity="0.75"/>
<ellipse cx="426.0" cy="849.9" rx="2.28" ry="2.28" fill="#a19784" stroke="#5e5742" stroke-width="0.7" opacity="0.75"/>
<ellipse cx="391.8" cy="840.8" rx="1.90" ry="1.90" fill="#a19784" stroke="#5e5742" stroke-width="0.7" opacity="0.75"/>
<ellipse cx="454.4" cy="837.8" rx="1.90" ry="1.90" fill="#a19784" stroke="#5e5742" stroke-width="0.7" opacity="0.75"/>
<ellipse cx="378.5" cy="815.0" rx="1.90" ry="1.90" fill="#a19784" stroke="#5e5742" stroke-width="0.7" opacity="0.75"/>
<ellipse cx="418.4" cy="820.7" rx="1.52" ry="1.52" fill="#a19784" stroke="#5e5742" stroke-width="0.7" opacity="0.75"/>
<ellipse cx="426.0" cy="853.7" rx="1.14" ry="1.14" fill="#e3dfd2" stroke="#625c49" stroke-width="0.55" opacity="0.85"/>
<ellipse cx="414.6" cy="809.3" rx="1.14" ry="1.14" fill="#e3dfd2" stroke="#625c49" stroke-width="0.55" opacity="0.85"/>
<ellipse cx="437.3" cy="816.9" rx="1.14" ry="1.14" fill="#e3dfd2" stroke="#625c49" stroke-width="0.55" opacity="0.85"/>
</g>
</g></g>
<defs><radialGradient id="mg10" cx="0.6" cy="0.55" r="0.75"><stop offset="0" stop-color="#bcb3a2"/><stop offset="0.3" stop-color="#bcb3a2"/><stop offset="1" stop-color="#776d58"/></radialGradient><clipPath id="cl10"><rect x="58.50" y="884.70" width="88.0" height="66.3"/></clipPath></defs>
<defs><filter id="gr10" x="0" y="0" width="100%" height="100%" color-interpolation-filters="sRGB"><feTurbulence type="fractalNoise" baseFrequency="0.6" numOctaves="2" seed="51" result="n1"/><feColorMatrix in="n1" type="matrix" values="0.22 0.22 0.22 0 0.67  0.22 0.22 0.22 0 0.67  0.23 0.23 0.23 0 0.655  0 0 0 0 1" result="g1"/><feTurbulence type="fractalNoise" baseFrequency="0.08" numOctaves="2" seed="56" result="n2"/><feColorMatrix in="n2" type="matrix" values="0.28 0.28 0.28 0 0.580  0.29000000000000004 0.29000000000000004 0.29000000000000004 0 0.565  0.32 0.32 0.32 0 0.520  0 0 0 0 1" result="g2"/><feBlend in="SourceGraphic" in2="g1" mode="multiply" result="b1"/><feBlend in="b1" in2="g2" mode="multiply"/></filter></defs>
<g clip-path="url(#cl10)"><g filter="url(#gr10)">
<rect x="56.50" y="882.70" width="92.0" height="70.3" fill="url(#mg10)"/>
<g filter="url(#soft)">
<circle cx="81.0" cy="918.0" r="0.77" fill="#ddd7c8" stroke="#625c49" stroke-width="0.5" opacity="0.78"/>
<circle cx="106.9" cy="944.4" r="1.38" fill="#a8a08e" stroke="#615b48" stroke-width="0.6" opacity="0.84"/>
<circle cx="106.5" cy="925.9" r="1.60" fill="#a8a08e" stroke="#615b48" stroke-width="0.6" opacity="0.59"/>
<circle cx="94.4" cy="948.0" r="1.92" fill="#a8a08e" stroke="#615b48" stroke-width="0.6" opacity="0.46"/>
<circle cx="100.6" cy="937.4" r="1.11" fill="#a8a08e" stroke="#615b48" stroke-width="0.6" opacity="0.70"/>
<circle cx="126.5" cy="944.4" r="1.81" fill="#a8a08e" stroke="#615b48" stroke-width="0.6" opacity="0.53"/>
<circle cx="97.3" cy="938.9" r="1.46" fill="#a8a08e" stroke="#615b48" stroke-width="0.6" opacity="0.81"/>
<circle cx="129.7" cy="938.2" r="1.32" fill="#ddd7c8" stroke="#625c49" stroke-width="0.5" opacity="0.69"/>
<circle cx="144.3" cy="915.5" r="0.31" fill="#675b43" opacity="0.26"/>
<circle cx="95.2" cy="898.6" r="0.68" fill="#675b43" opacity="0.18"/>
<circle cx="137.3" cy="921.0" r="0.37" fill="#675b43" opacity="0.24"/>
<circle cx="98.2" cy="893.3" r="0.61" fill="#675b43" opacity="0.31"/>
<circle cx="144.0" cy="939.1" r="0.61" fill="#675b43" opacity="0.40"/>
<circle cx="139.6" cy="927.1" r="0.52" fill="#675b43" opacity="0.28"/>
<circle cx="129.5" cy="945.2" r="0.63" fill="#675b43" opacity="0.36"/>
<circle cx="61.9" cy="912.7" r="0.33" fill="#675b43" opacity="0.30"/>
<ellipse cx="93.8" cy="912.4" rx="10.80" ry="10.80" fill="#93866f" stroke="#5e5742" stroke-width="0.95" opacity="0.75"/>
<ellipse cx="93.8" cy="912.4" rx="7.56" ry="7.56" fill="#857660" opacity="0.5"/>
<ellipse cx="81.3" cy="935.8" rx="5.84" ry="7.88" fill="#93866f" stroke="#5e5742" stroke-width="0.95" opacity="0.75"/>
<ellipse cx="81.3" cy="935.8" rx="4.09" ry="5.52" fill="#857660" opacity="0.5"/>
<ellipse cx="114.9" cy="905.7" rx="3.50" ry="3.21" fill="#a19784" stroke="#5e5742" stroke-width="0.7" opacity="0.75"/>
<ellipse cx="131.5" cy="912.4" rx="3.21" ry="3.21" fill="#a19784" stroke="#5e5742" stroke-width="0.7" opacity="0.75"/>
<ellipse cx="139.1" cy="910.9" rx="2.63" ry="2.63" fill="#a19784" stroke="#5e5742" stroke-width="0.7" opacity="0.75"/>
<ellipse cx="104.6" cy="925.0" rx="2.63" ry="2.63" fill="#a19784" stroke="#5e5742" stroke-width="0.7" opacity="0.75"/>
<ellipse cx="92.4" cy="894.9" rx="2.04" ry="2.34" fill="#a19784" stroke="#5e5742" stroke-width="0.7" opacity="0.75"/>
<ellipse cx="134.4" cy="887.0" rx="1.75" ry="1.75" fill="#a19784" stroke="#5e5742" stroke-width="0.7" opacity="0.75"/>
</g>
</g></g>
<defs><radialGradient id="mg11" cx="0.45" cy="0.5" r="0.75"><stop offset="0" stop-color="#bab1a0"/><stop offset="0.3" stop-color="#bab1a0"/><stop offset="1" stop-color="#7d745f"/></radialGradient><clipPath id="cl11"><rect x="163.90" y="884.70" width="88.0" height="66.3"/></clipPath></defs>
<defs><filter id="gr11" x="0" y="0" width="100%" height="100%" color-interpolation-filters="sRGB"><feTurbulence type="fractalNoise" baseFrequency="0.6" numOctaves="2" seed="61" result="n1"/><feColorMatrix in="n1" type="matrix" values="0.22 0.22 0.22 0 0.67  0.22 0.22 0.22 0 0.67  0.23 0.23 0.23 0 0.655  0 0 0 0 1" result="g1"/><feTurbulence type="fractalNoise" baseFrequency="0.08" numOctaves="2" seed="66" result="n2"/><feColorMatrix in="n2" type="matrix" values="0.28 0.28 0.28 0 0.580  0.29000000000000004 0.29000000000000004 0.29000000000000004 0 0.565  0.32 0.32 0.32 0 0.520  0 0 0 0 1" result="g2"/><feBlend in="SourceGraphic" in2="g1" mode="multiply" result="b1"/><feBlend in="b1" in2="g2" mode="multiply"/></filter></defs>
<g clip-path="url(#cl11)"><g filter="url(#gr11)">
<rect x="161.90" y="882.70" width="92.0" height="70.3" fill="url(#mg11)"/>
<g filter="url(#soft)">
<circle cx="207.4" cy="921.4" r="1.87" fill="#a8a08e" stroke="#615b48" stroke-width="0.6" opacity="0.58"/>
<circle cx="224.1" cy="917.0" r="1.33" fill="#a8a08e" stroke="#615b48" stroke-width="0.6" opacity="0.61"/>
<circle cx="180.0" cy="926.1" r="1.97" fill="#a8a08e" stroke="#615b48" stroke-width="0.6" opacity="0.73"/>
<circle cx="194.3" cy="913.7" r="1.07" fill="#a8a08e" stroke="#615b48" stroke-width="0.6" opacity="0.74"/>
<circle cx="190.4" cy="947.8" r="1.31" fill="#a8a08e" stroke="#615b48" stroke-width="0.6" opacity="0.84"/>
<circle cx="229.8" cy="925.8" r="1.11" fill="#a8a08e" stroke="#615b48" stroke-width="0.6" opacity="0.74"/>
<circle cx="200.1" cy="894.8" r="0.68" fill="#ddd7c8" stroke="#625c49" stroke-width="0.5" opacity="0.60"/>
<circle cx="198.3" cy="939.7" r="1.47" fill="#ddd7c8" stroke="#625c49" stroke-width="0.5" opacity="0.62"/>
<circle cx="194.7" cy="889.8" r="0.39" fill="#675b43" opacity="0.31"/>
<circle cx="217.9" cy="887.7" r="0.50" fill="#675b43" opacity="0.26"/>
<circle cx="199.1" cy="894.4" r="0.46" fill="#675b43" opacity="0.18"/>
<circle cx="223.9" cy="927.5" r="0.55" fill="#675b43" opacity="0.25"/>
<circle cx="247.2" cy="909.4" r="0.38" fill="#675b43" opacity="0.24"/>
<circle cx="243.4" cy="895.8" r="0.61" fill="#675b43" opacity="0.38"/>
<circle cx="238.2" cy="915.6" r="0.48" fill="#675b43" opacity="0.37"/>
<circle cx="226.0" cy="937.6" r="0.37" fill="#675b43" opacity="0.30"/>
<ellipse cx="196.0" cy="904.5" rx="5.84" ry="5.84" fill="#93866f" stroke="#5e5742" stroke-width="0.95" opacity="0.75"/>
<ellipse cx="196.0" cy="904.5" rx="4.09" ry="4.09" fill="#857660" opacity="0.5"/>
<ellipse cx="216.5" cy="913.9" rx="4.96" ry="5.26" fill="#93866f" stroke="#5e5742" stroke-width="0.95" opacity="0.75"/>
<ellipse cx="216.5" cy="913.9" rx="3.47" ry="3.68" fill="#857660" opacity="0.5"/>
<ellipse cx="192.2" cy="935.8" rx="5.84" ry="5.84" fill="#93866f" stroke="#5e5742" stroke-width="0.95" opacity="0.75"/>
<ellipse cx="192.2" cy="935.8" rx="4.09" ry="4.09" fill="#857660" opacity="0.5"/>
<ellipse cx="217.9" cy="935.8" rx="4.67" ry="4.67" fill="#93866f" stroke="#5e5742" stroke-width="0.95" opacity="0.75"/>
<ellipse cx="217.9" cy="935.8" rx="3.27" ry="3.27" fill="#857660" opacity="0.5"/>
<ellipse cx="227.3" cy="940.1" rx="3.21" ry="3.21" fill="#a19784" stroke="#5e5742" stroke-width="0.7" opacity="0.75"/>
<ellipse cx="206.8" cy="897.8" rx="2.63" ry="2.63" fill="#a19784" stroke="#5e5742" stroke-width="0.7" opacity="0.75"/>
<ellipse cx="234.6" cy="910.4" rx="2.63" ry="2.63" fill="#a19784" stroke="#5e5742" stroke-width="0.7" opacity="0.75"/>
<ellipse cx="168.9" cy="887.0" rx="2.92" ry="2.63" fill="#a19784" stroke="#5e5742" stroke-width="0.7" opacity="0.75"/>
<ellipse cx="222.3" cy="919.1" rx="1.75" ry="1.75" fill="#a19784" stroke="#5e5742" stroke-width="0.7" opacity="0.75"/>
</g>
</g></g>
<defs><radialGradient id="mg12" cx="0.5" cy="0.5" r="0.75"><stop offset="0" stop-color="#cbc4b5"/><stop offset="0.3" stop-color="#cbc4b5"/><stop offset="1" stop-color="#958e7b"/></radialGradient><clipPath id="cl12"><rect x="269.20" y="884.70" width="88.0" height="66.3"/></clipPath></defs>
<defs><filter id="gr12" x="0" y="0" width="100%" height="100%" color-interpolation-filters="sRGB"><feTurbulence type="fractalNoise" baseFrequency="0.6" numOctaves="2" seed="71" result="n1"/><feColorMatrix in="n1" type="matrix" values="0.22 0.22 0.22 0 0.67  0.22 0.22 0.22 0 0.67  0.23 0.23 0.23 0 0.655  0 0 0 0 1" result="g1"/><feTurbulence type="fractalNoise" baseFrequency="0.08" numOctaves="2" seed="76" result="n2"/><feColorMatrix in="n2" type="matrix" values="0.12 0.12 0.12 0 0.820  0.13 0.13 0.13 0 0.805  0.16 0.16 0.16 0 0.760  0 0 0 0 1" result="g2"/><feBlend in="SourceGraphic" in2="g1" mode="multiply" result="b1"/><feBlend in="b1" in2="g2" mode="multiply"/></filter></defs>
<g clip-path="url(#cl12)"><g filter="url(#gr12)">
<rect x="267.20" y="882.70" width="92.0" height="70.3" fill="url(#mg12)"/>
<g filter="url(#soft)">
<circle cx="298.4" cy="925.3" r="0.91" fill="#a8a08e" stroke="#615b48" stroke-width="0.6" opacity="0.84"/>
<circle cx="355.1" cy="903.1" r="0.80" fill="#ddd7c8" stroke="#625c49" stroke-width="0.5" opacity="0.47"/>
<circle cx="273.2" cy="929.8" r="1.34" fill="#a8a08e" stroke="#615b48" stroke-width="0.6" opacity="0.78"/>
<circle cx="300.5" cy="897.1" r="1.32" fill="#a8a08e" stroke="#615b48" stroke-width="0.6" opacity="0.46"/>
<circle cx="287.1" cy="896.0" r="1.97" fill="#a8a08e" stroke="#615b48" stroke-width="0.6" opacity="0.62"/>
<circle cx="353.5" cy="928.1" r="0.84" fill="#ddd7c8" stroke="#625c49" stroke-width="0.5" opacity="0.51"/>
<circle cx="333.1" cy="918.6" r="1.26" fill="#a8a08e" stroke="#615b48" stroke-width="0.6" opacity="0.46"/>
<circle cx="304.2" cy="891.0" r="1.20" fill="#a8a08e" stroke="#615b48" stroke-width="0.6" opacity="0.57"/>
<circle cx="312.7" cy="921.9" r="1.34" fill="#ddd7c8" stroke="#625c49" stroke-width="0.5" opacity="0.57"/>
<circle cx="296.7" cy="900.2" r="1.59" fill="#a8a08e" stroke="#615b48" stroke-width="0.6" opacity="0.64"/>
<circle cx="278.4" cy="934.0" r="0.55" fill="#675b43" opacity="0.31"/>
<circle cx="330.7" cy="940.7" r="0.31" fill="#675b43" opacity="0.20"/>
<circle cx="310.8" cy="930.8" r="0.50" fill="#675b43" opacity="0.28"/>
<circle cx="296.6" cy="901.4" r="0.65" fill="#675b43" opacity="0.40"/>
<circle cx="313.2" cy="915.8" r="0.35" fill="#675b43" opacity="0.30"/>
<circle cx="288.4" cy="925.9" r="0.41" fill="#675b43" opacity="0.27"/>
<circle cx="344.6" cy="905.7" r="0.51" fill="#675b43" opacity="0.23"/>
<circle cx="312.0" cy="941.5" r="0.50" fill="#675b43" opacity="0.39"/>
<circle cx="305.3" cy="914.9" r="0.56" fill="#675b43" opacity="0.28"/>
<circle cx="328.0" cy="904.4" r="0.31" fill="#675b43" opacity="0.26"/>
<ellipse cx="300.7" cy="915.6" rx="2.28" ry="2.28" fill="#a19784" stroke="#5e5742" stroke-width="0.7" opacity="0.75"/>
<ellipse cx="311.3" cy="913.7" rx="1.90" ry="1.90" fill="#a19784" stroke="#5e5742" stroke-width="0.7" opacity="0.75"/>
<ellipse cx="305.3" cy="921.3" rx="1.90" ry="1.90" fill="#a19784" stroke="#5e5742" stroke-width="0.7" opacity="0.75"/>
<ellipse cx="338.7" cy="927.0" rx="1.52" ry="1.52" fill="#a19784" stroke="#5e5742" stroke-width="0.7" opacity="0.75"/>
</g>
</g></g>
<defs><radialGradient id="mg13" cx="0.55" cy="0.5" r="0.75"><stop offset="0" stop-color="#bbb4a3"/><stop offset="0.3" stop-color="#bbb4a3"/><stop offset="1" stop-color="#777059"/></radialGradient><clipPath id="cl13"><rect x="374.70" y="884.70" width="88.0" height="66.3"/></clipPath></defs>
<defs><filter id="gr13" x="0" y="0" width="100%" height="100%" color-interpolation-filters="sRGB"><feTurbulence type="fractalNoise" baseFrequency="0.6" numOctaves="2" seed="81" result="n1"/><feColorMatrix in="n1" type="matrix" values="0.22 0.22 0.22 0 0.67  0.22 0.22 0.22 0 0.67  0.23 0.23 0.23 0 0.655  0 0 0 0 1" result="g1"/><feTurbulence type="fractalNoise" baseFrequency="0.08" numOctaves="2" seed="86" result="n2"/><feColorMatrix in="n2" type="matrix" values="0.28 0.28 0.28 0 0.580  0.29000000000000004 0.29000000000000004 0.29000000000000004 0 0.565  0.32 0.32 0.32 0 0.520  0 0 0 0 1" result="g2"/><feBlend in="SourceGraphic" in2="g1" mode="multiply" result="b1"/><feBlend in="b1" in2="g2" mode="multiply"/></filter></defs>
<g clip-path="url(#cl13)"><g filter="url(#gr13)">
<rect x="372.70" y="882.70" width="92.0" height="70.3" fill="url(#mg13)"/>
<g filter="url(#soft)">
<circle cx="419.2" cy="914.9" r="1.57" fill="#a8a08e" stroke="#615b48" stroke-width="0.6" opacity="0.60"/>
<circle cx="390.1" cy="914.8" r="1.82" fill="#a8a08e" stroke="#615b48" stroke-width="0.6" opacity="0.69"/>
<circle cx="400.9" cy="909.0" r="0.89" fill="#ddd7c8" stroke="#625c49" stroke-width="0.5" opacity="0.50"/>
<circle cx="419.9" cy="905.3" r="1.60" fill="#a8a08e" stroke="#615b48" stroke-width="0.6" opacity="0.83"/>
<circle cx="442.1" cy="907.3" r="0.95" fill="#ddd7c8" stroke="#625c49" stroke-width="0.5" opacity="0.81"/>
<circle cx="445.9" cy="902.0" r="1.44" fill="#a8a08e" stroke="#615b48" stroke-width="0.6" opacity="0.67"/>
<circle cx="438.2" cy="939.0" r="1.32" fill="#a8a08e" stroke="#615b48" stroke-width="0.6" opacity="0.59"/>
<circle cx="425.9" cy="931.5" r="1.02" fill="#a8a08e" stroke="#615b48" stroke-width="0.6" opacity="0.47"/>
<circle cx="402.5" cy="903.3" r="1.32" fill="#ddd7c8" stroke="#625c49" stroke-width="0.5" opacity="0.82"/>
<circle cx="385.1" cy="898.5" r="1.12" fill="#a8a08e" stroke="#615b48" stroke-width="0.6" opacity="0.74"/>
<circle cx="458.9" cy="887.9" r="1.54" fill="#a8a08e" stroke="#615b48" stroke-width="0.6" opacity="0.50"/>
<circle cx="408.7" cy="901.7" r="1.12" fill="#ddd7c8" stroke="#625c49" stroke-width="0.5" opacity="0.80"/>
<circle cx="396.1" cy="943.0" r="1.40" fill="#a8a08e" stroke="#615b48" stroke-width="0.6" opacity="0.49"/>
<circle cx="456.2" cy="913.3" r="1.14" fill="#a8a08e" stroke="#615b48" stroke-width="0.6" opacity="0.46"/>
<circle cx="441.5" cy="932.7" r="1.73" fill="#a8a08e" stroke="#615b48" stroke-width="0.6" opacity="0.59"/>
<circle cx="425.0" cy="936.1" r="1.46" fill="#a8a08e" stroke="#615b48" stroke-width="0.6" opacity="0.66"/>
<circle cx="445.8" cy="946.3" r="1.23" fill="#a8a08e" stroke="#615b48" stroke-width="0.6" opacity="0.83"/>
<circle cx="410.7" cy="902.5" r="1.72" fill="#a8a08e" stroke="#615b48" stroke-width="0.6" opacity="0.67"/>
<circle cx="460.2" cy="947.8" r="1.22" fill="#ddd7c8" stroke="#625c49" stroke-width="0.5" opacity="0.66"/>
<circle cx="383.0" cy="937.8" r="1.21" fill="#a8a08e" stroke="#615b48" stroke-width="0.6" opacity="0.72"/>
<circle cx="394.7" cy="929.3" r="1.11" fill="#a8a08e" stroke="#615b48" stroke-width="0.6" opacity="0.48"/>
<circle cx="410.2" cy="909.2" r="1.85" fill="#a8a08e" stroke="#615b48" stroke-width="0.6" opacity="0.53"/>
<circle cx="396.2" cy="932.0" r="1.80" fill="#a8a08e" stroke="#615b48" stroke-width="0.6" opacity="0.49"/>
<circle cx="447.8" cy="917.3" r="0.99" fill="#ddd7c8" stroke="#625c49" stroke-width="0.5" opacity="0.48"/>
<circle cx="456.2" cy="948.3" r="1.07" fill="#ddd7c8" stroke="#625c49" stroke-width="0.5" opacity="0.72"/>
<circle cx="456.1" cy="925.9" r="1.24" fill="#ddd7c8" stroke="#625c49" stroke-width="0.5" opacity="0.79"/>
<circle cx="435.3" cy="916.0" r="1.26" fill="#a8a08e" stroke="#615b48" stroke-width="0.6" opacity="0.52"/>
<circle cx="392.5" cy="897.1" r="1.36" fill="#a8a08e" stroke="#615b48" stroke-width="0.6" opacity="0.62"/>
<circle cx="395.5" cy="947.5" r="1.02" fill="#a8a08e" stroke="#615b48" stroke-width="0.6" opacity="0.77"/>
<circle cx="415.2" cy="905.5" r="1.34" fill="#ddd7c8" stroke="#625c49" stroke-width="0.5" opacity="0.75"/>
<circle cx="451.2" cy="926.7" r="0.37" fill="#675b43" opacity="0.39"/>
<circle cx="407.1" cy="895.1" r="0.68" fill="#675b43" opacity="0.34"/>
<circle cx="415.6" cy="921.1" r="0.50" fill="#675b43" opacity="0.28"/>
<circle cx="383.0" cy="926.9" r="0.44" fill="#675b43" opacity="0.19"/>
<circle cx="406.7" cy="911.4" r="0.32" fill="#675b43" opacity="0.22"/>
<circle cx="402.2" cy="895.1" r="0.47" fill="#675b43" opacity="0.16"/>
<circle cx="417.9" cy="907.6" r="0.42" fill="#675b43" opacity="0.31"/>
<circle cx="430.5" cy="893.3" r="0.35" fill="#675b43" opacity="0.31"/>
<circle cx="407.3" cy="896.1" r="0.41" fill="#675b43" opacity="0.22"/>
<circle cx="396.4" cy="887.9" r="0.44" fill="#675b43" opacity="0.37"/>
<circle cx="375.7" cy="887.3" r="0.36" fill="#675b43" opacity="0.29"/>
<circle cx="403.9" cy="931.6" r="0.59" fill="#675b43" opacity="0.31"/>
<circle cx="417.1" cy="941.0" r="0.70" fill="#675b43" opacity="0.18"/>
<circle cx="409.4" cy="941.7" r="0.56" fill="#675b43" opacity="0.25"/>
<circle cx="437.5" cy="903.5" r="0.64" fill="#675b43" opacity="0.17"/>
<circle cx="384.7" cy="936.2" r="0.47" fill="#675b43" opacity="0.34"/>
<circle cx="454.2" cy="934.0" r="0.56" fill="#675b43" opacity="0.22"/>
<circle cx="419.4" cy="900.9" r="0.63" fill="#675b43" opacity="0.40"/>
<circle cx="378.8" cy="920.2" r="0.63" fill="#675b43" opacity="0.39"/>
<circle cx="409.8" cy="914.5" r="0.42" fill="#675b43" opacity="0.16"/>
<circle cx="394.0" cy="948.1" r="0.61" fill="#675b43" opacity="0.40"/>
<circle cx="427.5" cy="888.0" r="0.47" fill="#675b43" opacity="0.37"/>
<circle cx="422.3" cy="939.2" r="0.31" fill="#675b43" opacity="0.23"/>
<circle cx="412.4" cy="914.5" r="0.41" fill="#675b43" opacity="0.33"/>
<circle cx="443.4" cy="939.3" r="0.46" fill="#675b43" opacity="0.17"/>
<circle cx="422.6" cy="939.6" r="0.43" fill="#675b43" opacity="0.17"/>
<circle cx="404.3" cy="902.7" r="0.30" fill="#675b43" opacity="0.31"/>
<circle cx="377.4" cy="937.7" r="0.67" fill="#675b43" opacity="0.35"/>
<circle cx="441.4" cy="930.4" r="0.62" fill="#675b43" opacity="0.29"/>
<circle cx="426.6" cy="887.4" r="0.49" fill="#675b43" opacity="0.39"/>
<ellipse cx="403.2" cy="899.7" rx="2.66" ry="2.66" fill="#a19784" stroke="#5e5742" stroke-width="0.7" opacity="0.75"/>
<ellipse cx="382.3" cy="919.4" rx="2.28" ry="2.66" fill="#a19784" stroke="#5e5742" stroke-width="0.7" opacity="0.75"/>
<ellipse cx="455.6" cy="936.5" rx="2.28" ry="2.28" fill="#a19784" stroke="#5e5742" stroke-width="0.7" opacity="0.75"/>
<ellipse cx="444.9" cy="900.4" rx="1.90" ry="1.90" fill="#a19784" stroke="#5e5742" stroke-width="0.7" opacity="0.75"/>
<ellipse cx="422.2" cy="909.9" rx="1.52" ry="1.52" fill="#a19784" stroke="#5e5742" stroke-width="0.7" opacity="0.75"/>
<ellipse cx="399.4" cy="928.9" rx="1.52" ry="1.52" fill="#a19784" stroke="#5e5742" stroke-width="0.7" opacity="0.75"/>
<ellipse cx="429.8" cy="919.4" rx="1.14" ry="1.14" fill="#e3dfd2" stroke="#625c49" stroke-width="0.55" opacity="0.85"/>
<ellipse cx="410.8" cy="942.2" rx="1.14" ry="1.14" fill="#e3dfd2" stroke="#625c49" stroke-width="0.55" opacity="0.85"/>
</g>
</g></g>
<line x1="127.60" y1="861.90" x2="139.80" y2="861.90" stroke="#ffffff" stroke-width="1.3" stroke-linecap="butt"/>
</g>
</svg>
</body></html>
